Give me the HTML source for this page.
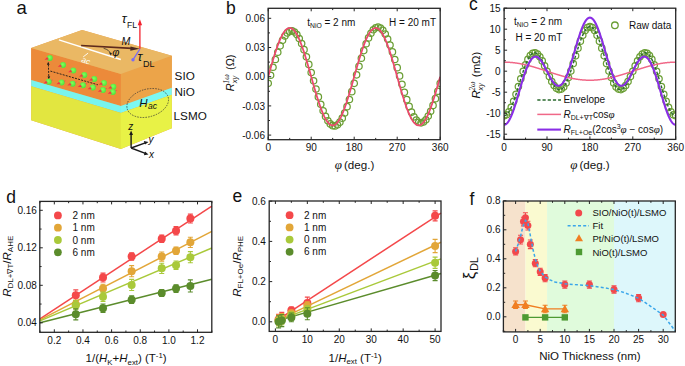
<!DOCTYPE html><html><head><meta charset="utf-8"><style>html,body{margin:0;padding:0;background:#fff;width:685px;height:366px;overflow:hidden}svg{display:block}</style></head><body><svg width="685" height="366" viewBox="0 0 685 366" font-family="Liberation Sans">
<rect width="685" height="366" fill="#fff"/>
<text x="16.50" y="13.50" font-size="18.5" text-anchor="start" fill="#111" >a</text>
<text x="226.00" y="13.60" font-size="17.5" text-anchor="start" fill="#111" >b</text>
<text x="469.00" y="10.40" font-size="17.5" text-anchor="start" fill="#111" >c</text>
<text x="6.20" y="202.70" font-size="17.5" text-anchor="start" fill="#111" >d</text>
<text x="232.60" y="202.20" font-size="17.5" text-anchor="start" fill="#111" >e</text>
<text x="469.60" y="205.40" font-size="17.5" text-anchor="start" fill="#111" >f</text>
<polygon points="31.20,48.00 82.10,30.10 171.80,55.70 171.80,128.30 120.80,149.00 31.20,120.20" fill="#e8a050" />
<polygon points="31.20,48.00 121.10,74.00 121.10,106.00 31.20,80.00" fill="#ec8a3a" />
<polygon points="31.20,80.00 121.10,106.00 121.10,113.00 31.20,86.20" fill="#78f4ee" />
<polygon points="31.20,86.20 121.10,113.00 121.10,149.00 31.20,120.20" fill="#e2e640" />
<polygon points="120.80,74.00 171.80,55.70 171.80,87.70 120.80,106.00" fill="#eca449" />
<polygon points="120.80,106.00 171.80,87.70 171.80,94.70 120.80,113.00" fill="#7cf8f2" />
<polygon points="120.80,113.00 171.80,94.70 171.80,128.30 120.80,149.00" fill="#e8f246" />
<polygon points="31.20,48.00 82.10,30.10 171.80,55.70 120.80,74.00" fill="#eab864" />
<path d="M58.9 39.9 L120.8 59.5" stroke="#fff" stroke-width="1.5"/>
<path d="M88.1 53.1 L83.2 56.9" stroke="#fff" stroke-width="0.9"/>
<text x="0" y="0" font-size="8" fill="#fff" font-style="italic" transform="translate(81.0,61.8) rotate(20)">ac</text>
<defs><radialGradient id="sph" cx="0.45" cy="0.4" r="0.6"><stop offset="0" stop-color="#84ff5c"/><stop offset="1" stop-color="#4ae43a"/></radialGradient></defs>
<path d="M48.4 64.5 L48.8 77.5" stroke="#1a1a1a" stroke-width="0.9" stroke-dasharray="2 1.2" fill="none"/>
<path d="M50.4 71.1 L97.9 84.8" stroke="#1a1a1a" stroke-width="0.9" stroke-dasharray="2 1.2" fill="none"/>
<path d="M48.2 61.8 L46.9 64.8 L49.6 64.7 Z M48.8 79.2 L47.5 76.4 L50.2 76.3 Z" fill="#1a1a1a"/>
<path d="M50.20 79.90 L52.90 79.50 L51.30 81.90 Z" fill="#f24858"/>
<path d="M63.10 80.80 L65.80 80.40 L64.20 82.80 Z" fill="#f24858"/>
<path d="M74.10 81.90 L76.80 81.50 L75.20 83.90 Z" fill="#f24858"/>
<path d="M84.50 83.50 L87.20 83.10 L85.60 85.50 Z" fill="#f24858"/>
<path d="M94.30 85.80 L97.00 85.40 L95.40 87.80 Z" fill="#f24858"/>
<path d="M104.50 88.30 L107.20 87.90 L105.60 90.30 Z" fill="#f24858"/>
<path d="M114.40 90.30 L117.10 89.90 L115.50 92.30 Z" fill="#f24858"/>
<circle cx="49.80" cy="58.00" r="3.0" fill="url(#sph)"/>
<path d="M47.30 57.10 L44.60 59.70 L48.80 59.60 Z" fill="#f23444"/>
<circle cx="63.00" cy="65.10" r="3.0" fill="url(#sph)"/>
<path d="M60.50 64.20 L57.80 66.80 L62.00 66.70 Z" fill="#f23444"/>
<circle cx="73.30" cy="70.60" r="3.0" fill="url(#sph)"/>
<path d="M70.80 69.70 L68.10 72.30 L72.30 72.20 Z" fill="#f23444"/>
<circle cx="84.30" cy="75.00" r="3.0" fill="url(#sph)"/>
<path d="M81.80 74.10 L79.10 76.70 L83.30 76.60 Z" fill="#f23444"/>
<circle cx="94.20" cy="79.00" r="3.0" fill="url(#sph)"/>
<path d="M91.70 78.10 L89.00 80.70 L93.20 80.60 Z" fill="#f23444"/>
<circle cx="103.90" cy="83.10" r="3.0" fill="url(#sph)"/>
<path d="M101.40 82.20 L98.70 84.80 L102.90 84.70 Z" fill="#f23444"/>
<circle cx="113.30" cy="86.80" r="3.0" fill="url(#sph)"/>
<path d="M110.80 85.90 L108.10 88.50 L112.30 88.40 Z" fill="#f23444"/>
<circle cx="48.70" cy="81.70" r="3.0" fill="url(#sph)"/>
<path d="M46.20 80.80 L43.50 83.40 L47.70 83.30 Z" fill="#f23444"/>
<circle cx="61.60" cy="82.60" r="3.0" fill="url(#sph)"/>
<path d="M59.10 81.70 L56.40 84.30 L60.60 84.20 Z" fill="#f23444"/>
<circle cx="72.60" cy="83.70" r="3.0" fill="url(#sph)"/>
<path d="M70.10 82.80 L67.40 85.40 L71.60 85.30 Z" fill="#f23444"/>
<circle cx="83.00" cy="85.30" r="3.0" fill="url(#sph)"/>
<path d="M80.50 84.40 L77.80 87.00 L82.00 86.90 Z" fill="#f23444"/>
<circle cx="92.80" cy="87.60" r="3.0" fill="url(#sph)"/>
<path d="M90.30 86.70 L87.60 89.30 L91.80 89.20 Z" fill="#f23444"/>
<circle cx="103.00" cy="90.10" r="3.0" fill="url(#sph)"/>
<path d="M100.50 89.20 L97.80 91.80 L102.00 91.70 Z" fill="#f23444"/>
<circle cx="112.90" cy="92.10" r="3.0" fill="url(#sph)"/>
<path d="M110.40 91.20 L107.70 93.80 L111.90 93.70 Z" fill="#f23444"/>
<path d="M81.1 45.5 L132.0 48.4" stroke="#5e2a1c" stroke-width="1.7"/>
<path d="M139.8 48.8 L130.5 46.4 L130.3 50.8 Z" fill="#4a2a22"/>
<path d="M103.6 48.3 Q109.5 49.8 110.6 54.0" stroke="#222" stroke-width="0.7" fill="none"/>
<path d="M110.9 55.6 L109.0 52.6 L111.9 52.9 Z" fill="#222"/>
<text x="112.2" y="56.0" font-size="11" font-style="italic" fill="#111">φ</text>
<text x="121.4" y="45.3" font-size="10.6" font-style="italic" fill="#111">M</text>
<path d="M139.9 48.8 L139.9 24.5" stroke="#f2222e" stroke-width="1.3"/>
<path d="M139.9 19.2 L137.7 25.2 L142.1 25.2 Z" fill="#f2222e"/>
<text x="121.8" y="22.6" font-size="13" font-style="italic" fill="#111">τ</text>
<text x="127.0" y="28.3" font-size="8.6" fill="#111">FL</text>
<path d="M139.9 49.2 L133.2 59.4" stroke="#7c6cf2" stroke-width="1.3"/>
<circle cx="133.0" cy="59.8" r="1.7" fill="#7c6cf2"/>
<text x="137.4" y="61.0" font-size="13" font-style="italic" fill="#111">τ</text>
<text x="143.0" y="67.3" font-size="9" fill="#111">DL</text>
<ellipse cx="147.7" cy="103.0" rx="21.3" ry="13.8" transform="rotate(-16 147.7 103)" fill="none" stroke="#333" stroke-width="0.7" stroke-dasharray="1.5 1.2"/>
<text x="139.2" y="107.0" font-size="11.5" font-style="italic" fill="#111">H</text>
<text x="148.0" y="108.6" font-size="8.6" font-style="italic" fill="#111">ac</text>
<text x="174.60" y="80.00" font-size="11.7" text-anchor="start" fill="#111" >SIO</text>
<text x="174.60" y="96.00" font-size="11.7" text-anchor="start" fill="#111" >NiO</text>
<text x="173.60" y="120.20" font-size="11.7" text-anchor="start" fill="#111" >LSMO</text>
<path d="M131.1 148 L131.1 133.5 M131.1 148 L146 142.6 M131.1 148 L146 153.7" stroke="#1a1a1a" stroke-width="1.4" fill="none"/>
<path d="M131.1 130.5 L129.2 135 L133.0 135 Z M148.5 142.0 L143.8 141.0 L145.0 144.6 Z M148.5 154.5 L145.0 151.5 L143.9 155.2 Z" fill="#1a1a1a"/>
<text x="128.2" y="129.8" font-size="10" font-style="italic" fill="#111">z</text>
<text x="148.5" y="142.8" font-size="10" font-style="italic" fill="#111">y</text>
<text x="149.0" y="157.6" font-size="10" font-style="italic" fill="#111">x</text>
<clipPath id="clipb"><rect x="268.20" y="8.30" width="172.00" height="131.40"/></clipPath>
<g clip-path="url(#clipb)">
<circle cx="268.20" cy="83.34" r="3.2" fill="none" stroke="#6a9e34" stroke-width="1.25"/>
<circle cx="270.59" cy="75.25" r="3.2" fill="none" stroke="#6a9e34" stroke-width="1.25"/>
<circle cx="272.98" cy="67.21" r="3.2" fill="none" stroke="#6a9e34" stroke-width="1.25"/>
<circle cx="275.37" cy="59.46" r="3.2" fill="none" stroke="#6a9e34" stroke-width="1.25"/>
<circle cx="277.76" cy="52.26" r="3.2" fill="none" stroke="#6a9e34" stroke-width="1.25"/>
<circle cx="280.14" cy="45.82" r="3.2" fill="none" stroke="#6a9e34" stroke-width="1.25"/>
<circle cx="282.53" cy="40.34" r="3.2" fill="none" stroke="#6a9e34" stroke-width="1.25"/>
<circle cx="284.92" cy="35.99" r="3.2" fill="none" stroke="#6a9e34" stroke-width="1.25"/>
<circle cx="287.31" cy="32.91" r="3.2" fill="none" stroke="#6a9e34" stroke-width="1.25"/>
<circle cx="289.70" cy="31.19" r="3.2" fill="none" stroke="#6a9e34" stroke-width="1.25"/>
<circle cx="292.09" cy="30.90" r="3.2" fill="none" stroke="#6a9e34" stroke-width="1.25"/>
<circle cx="294.48" cy="32.04" r="3.2" fill="none" stroke="#6a9e34" stroke-width="1.25"/>
<circle cx="296.87" cy="34.59" r="3.2" fill="none" stroke="#6a9e34" stroke-width="1.25"/>
<circle cx="299.26" cy="38.46" r="3.2" fill="none" stroke="#6a9e34" stroke-width="1.25"/>
<circle cx="301.64" cy="43.54" r="3.2" fill="none" stroke="#6a9e34" stroke-width="1.25"/>
<circle cx="304.03" cy="49.69" r="3.2" fill="none" stroke="#6a9e34" stroke-width="1.25"/>
<circle cx="306.42" cy="56.71" r="3.2" fill="none" stroke="#6a9e34" stroke-width="1.25"/>
<circle cx="308.81" cy="64.39" r="3.2" fill="none" stroke="#6a9e34" stroke-width="1.25"/>
<circle cx="311.20" cy="72.50" r="3.2" fill="none" stroke="#6a9e34" stroke-width="1.25"/>
<circle cx="313.59" cy="80.79" r="3.2" fill="none" stroke="#6a9e34" stroke-width="1.25"/>
<circle cx="315.98" cy="89.01" r="3.2" fill="none" stroke="#6a9e34" stroke-width="1.25"/>
<circle cx="318.37" cy="96.92" r="3.2" fill="none" stroke="#6a9e34" stroke-width="1.25"/>
<circle cx="320.76" cy="104.26" r="3.2" fill="none" stroke="#6a9e34" stroke-width="1.25"/>
<circle cx="323.14" cy="110.82" r="3.2" fill="none" stroke="#6a9e34" stroke-width="1.25"/>
<circle cx="325.53" cy="116.39" r="3.2" fill="none" stroke="#6a9e34" stroke-width="1.25"/>
<circle cx="327.92" cy="120.80" r="3.2" fill="none" stroke="#6a9e34" stroke-width="1.25"/>
<circle cx="330.31" cy="123.92" r="3.2" fill="none" stroke="#6a9e34" stroke-width="1.25"/>
<circle cx="332.70" cy="125.65" r="3.2" fill="none" stroke="#6a9e34" stroke-width="1.25"/>
<circle cx="335.09" cy="125.93" r="3.2" fill="none" stroke="#6a9e34" stroke-width="1.25"/>
<circle cx="337.48" cy="124.75" r="3.2" fill="none" stroke="#6a9e34" stroke-width="1.25"/>
<circle cx="339.87" cy="122.14" r="3.2" fill="none" stroke="#6a9e34" stroke-width="1.25"/>
<circle cx="342.26" cy="118.17" r="3.2" fill="none" stroke="#6a9e34" stroke-width="1.25"/>
<circle cx="344.64" cy="112.97" r="3.2" fill="none" stroke="#6a9e34" stroke-width="1.25"/>
<circle cx="347.03" cy="106.69" r="3.2" fill="none" stroke="#6a9e34" stroke-width="1.25"/>
<circle cx="349.42" cy="99.51" r="3.2" fill="none" stroke="#6a9e34" stroke-width="1.25"/>
<circle cx="351.81" cy="91.65" r="3.2" fill="none" stroke="#6a9e34" stroke-width="1.25"/>
<circle cx="354.20" cy="83.34" r="3.2" fill="none" stroke="#6a9e34" stroke-width="1.25"/>
<circle cx="356.59" cy="74.82" r="3.2" fill="none" stroke="#6a9e34" stroke-width="1.25"/>
<circle cx="358.98" cy="66.36" r="3.2" fill="none" stroke="#6a9e34" stroke-width="1.25"/>
<circle cx="361.37" cy="58.20" r="3.2" fill="none" stroke="#6a9e34" stroke-width="1.25"/>
<circle cx="363.76" cy="50.60" r="3.2" fill="none" stroke="#6a9e34" stroke-width="1.25"/>
<circle cx="366.14" cy="43.76" r="3.2" fill="none" stroke="#6a9e34" stroke-width="1.25"/>
<circle cx="368.53" cy="37.90" r="3.2" fill="none" stroke="#6a9e34" stroke-width="1.25"/>
<circle cx="370.92" cy="33.20" r="3.2" fill="none" stroke="#6a9e34" stroke-width="1.25"/>
<circle cx="373.31" cy="29.78" r="3.2" fill="none" stroke="#6a9e34" stroke-width="1.25"/>
<circle cx="375.70" cy="27.75" r="3.2" fill="none" stroke="#6a9e34" stroke-width="1.25"/>
<circle cx="378.09" cy="27.17" r="3.2" fill="none" stroke="#6a9e34" stroke-width="1.25"/>
<circle cx="380.48" cy="28.06" r="3.2" fill="none" stroke="#6a9e34" stroke-width="1.25"/>
<circle cx="382.87" cy="30.37" r="3.2" fill="none" stroke="#6a9e34" stroke-width="1.25"/>
<circle cx="385.26" cy="34.05" r="3.2" fill="none" stroke="#6a9e34" stroke-width="1.25"/>
<circle cx="387.64" cy="38.97" r="3.2" fill="none" stroke="#6a9e34" stroke-width="1.25"/>
<circle cx="390.03" cy="44.99" r="3.2" fill="none" stroke="#6a9e34" stroke-width="1.25"/>
<circle cx="392.42" cy="51.91" r="3.2" fill="none" stroke="#6a9e34" stroke-width="1.25"/>
<circle cx="394.81" cy="59.54" r="3.2" fill="none" stroke="#6a9e34" stroke-width="1.25"/>
<circle cx="397.20" cy="67.63" r="3.2" fill="none" stroke="#6a9e34" stroke-width="1.25"/>
<circle cx="399.59" cy="75.94" r="3.2" fill="none" stroke="#6a9e34" stroke-width="1.25"/>
<circle cx="401.98" cy="84.22" r="3.2" fill="none" stroke="#6a9e34" stroke-width="1.25"/>
<circle cx="404.37" cy="92.22" r="3.2" fill="none" stroke="#6a9e34" stroke-width="1.25"/>
<circle cx="406.76" cy="99.69" r="3.2" fill="none" stroke="#6a9e34" stroke-width="1.25"/>
<circle cx="409.14" cy="106.41" r="3.2" fill="none" stroke="#6a9e34" stroke-width="1.25"/>
<circle cx="411.53" cy="112.17" r="3.2" fill="none" stroke="#6a9e34" stroke-width="1.25"/>
<circle cx="413.92" cy="116.82" r="3.2" fill="none" stroke="#6a9e34" stroke-width="1.25"/>
<circle cx="416.31" cy="120.19" r="3.2" fill="none" stroke="#6a9e34" stroke-width="1.25"/>
<circle cx="418.70" cy="122.21" r="3.2" fill="none" stroke="#6a9e34" stroke-width="1.25"/>
<circle cx="421.09" cy="122.80" r="3.2" fill="none" stroke="#6a9e34" stroke-width="1.25"/>
<circle cx="423.48" cy="121.95" r="3.2" fill="none" stroke="#6a9e34" stroke-width="1.25"/>
<circle cx="425.87" cy="119.70" r="3.2" fill="none" stroke="#6a9e34" stroke-width="1.25"/>
<circle cx="428.26" cy="116.12" r="3.2" fill="none" stroke="#6a9e34" stroke-width="1.25"/>
<circle cx="430.64" cy="111.31" r="3.2" fill="none" stroke="#6a9e34" stroke-width="1.25"/>
<circle cx="433.03" cy="105.43" r="3.2" fill="none" stroke="#6a9e34" stroke-width="1.25"/>
<circle cx="435.42" cy="98.67" r="3.2" fill="none" stroke="#6a9e34" stroke-width="1.25"/>
<circle cx="437.81" cy="91.23" r="3.2" fill="none" stroke="#6a9e34" stroke-width="1.25"/>
<circle cx="440.20" cy="83.34" r="3.2" fill="none" stroke="#6a9e34" stroke-width="1.25"/>
<path d="M268.20 76.70 L268.44 75.85 L268.68 75.00 L268.92 74.15 L269.16 73.31 L269.39 72.46 L269.63 71.61 L269.87 70.77 L270.11 69.93 L270.35 69.09 L270.59 68.25 L270.83 67.41 L271.07 66.58 L271.31 65.75 L271.54 64.93 L271.78 64.10 L272.02 63.29 L272.26 62.47 L272.50 61.66 L272.74 60.86 L272.98 60.06 L273.22 59.26 L273.46 58.47 L273.69 57.69 L273.93 56.91 L274.17 56.13 L274.41 55.37 L274.65 54.61 L274.89 53.85 L275.13 53.11 L275.37 52.37 L275.61 51.64 L275.84 50.91 L276.08 50.20 L276.32 49.49 L276.56 48.79 L276.80 48.10 L277.04 47.41 L277.28 46.74 L277.52 46.07 L277.76 45.42 L277.99 44.77 L278.23 44.14 L278.47 43.51 L278.71 42.89 L278.95 42.29 L279.19 41.69 L279.43 41.11 L279.67 40.53 L279.91 39.97 L280.14 39.42 L280.38 38.88 L280.62 38.35 L280.86 37.83 L281.10 37.33 L281.34 36.84 L281.58 36.35 L281.82 35.89 L282.06 35.43 L282.29 34.99 L282.53 34.55 L282.77 34.14 L283.01 33.73 L283.25 33.34 L283.49 32.96 L283.73 32.59 L283.97 32.24 L284.21 31.90 L284.44 31.58 L284.68 31.27 L284.92 30.97 L285.16 30.69 L285.40 30.42 L285.64 30.16 L285.88 29.92 L286.12 29.69 L286.36 29.48 L286.59 29.28 L286.83 29.10 L287.07 28.93 L287.31 28.77 L287.55 28.63 L287.79 28.51 L288.03 28.40 L288.27 28.30 L288.51 28.22 L288.74 28.15 L288.98 28.10 L289.22 28.06 L289.46 28.04 L289.70 28.04 L289.94 28.04 L290.18 28.06 L290.42 28.10 L290.66 28.15 L290.89 28.22 L291.13 28.30 L291.37 28.40 L291.61 28.51 L291.85 28.63 L292.09 28.77 L292.33 28.93 L292.57 29.10 L292.81 29.28 L293.04 29.48 L293.28 29.69 L293.52 29.92 L293.76 30.16 L294.00 30.42 L294.24 30.69 L294.48 30.97 L294.72 31.27 L294.96 31.58 L295.19 31.90 L295.43 32.24 L295.67 32.59 L295.91 32.96 L296.15 33.34 L296.39 33.73 L296.63 34.14 L296.87 34.55 L297.11 34.99 L297.34 35.43 L297.58 35.89 L297.82 36.35 L298.06 36.84 L298.30 37.33 L298.54 37.83 L298.78 38.35 L299.02 38.88 L299.26 39.42 L299.49 39.97 L299.73 40.53 L299.97 41.11 L300.21 41.69 L300.45 42.29 L300.69 42.89 L300.93 43.51 L301.17 44.14 L301.41 44.77 L301.64 45.42 L301.88 46.07 L302.12 46.74 L302.36 47.41 L302.60 48.10 L302.84 48.79 L303.08 49.49 L303.32 50.20 L303.56 50.91 L303.79 51.64 L304.03 52.37 L304.27 53.11 L304.51 53.85 L304.75 54.61 L304.99 55.37 L305.23 56.13 L305.47 56.91 L305.71 57.69 L305.94 58.47 L306.18 59.26 L306.42 60.06 L306.66 60.86 L306.90 61.66 L307.14 62.47 L307.38 63.29 L307.62 64.10 L307.86 64.93 L308.09 65.75 L308.33 66.58 L308.57 67.41 L308.81 68.25 L309.05 69.09 L309.29 69.93 L309.53 70.77 L309.77 71.61 L310.01 72.46 L310.24 73.31 L310.48 74.15 L310.72 75.00 L310.96 75.85 L311.20 76.70 L311.44 77.55 L311.68 78.40 L311.92 79.25 L312.16 80.09 L312.39 80.94 L312.63 81.79 L312.87 82.63 L313.11 83.47 L313.35 84.31 L313.59 85.15 L313.83 85.99 L314.07 86.82 L314.31 87.65 L314.54 88.47 L314.78 89.30 L315.02 90.11 L315.26 90.93 L315.50 91.74 L315.74 92.54 L315.98 93.34 L316.22 94.14 L316.46 94.93 L316.69 95.71 L316.93 96.49 L317.17 97.27 L317.41 98.03 L317.65 98.79 L317.89 99.55 L318.13 100.29 L318.37 101.03 L318.61 101.76 L318.84 102.49 L319.08 103.20 L319.32 103.91 L319.56 104.61 L319.80 105.30 L320.04 105.99 L320.28 106.66 L320.52 107.33 L320.76 107.98 L320.99 108.63 L321.23 109.26 L321.47 109.89 L321.71 110.51 L321.95 111.11 L322.19 111.71 L322.43 112.29 L322.67 112.87 L322.91 113.43 L323.14 113.98 L323.38 114.52 L323.62 115.05 L323.86 115.57 L324.10 116.07 L324.34 116.56 L324.58 117.05 L324.82 117.51 L325.06 117.97 L325.29 118.41 L325.53 118.85 L325.77 119.26 L326.01 119.67 L326.25 120.06 L326.49 120.44 L326.73 120.81 L326.97 121.16 L327.21 121.50 L327.44 121.82 L327.68 122.13 L327.92 122.43 L328.16 122.71 L328.40 122.98 L328.64 123.24 L328.88 123.48 L329.12 123.71 L329.36 123.92 L329.59 124.12 L329.83 124.30 L330.07 124.47 L330.31 124.63 L330.55 124.77 L330.79 124.89 L331.03 125.00 L331.27 125.10 L331.51 125.18 L331.74 125.25 L331.98 125.30 L332.22 125.34 L332.46 125.36 L332.70 125.37 L332.94 125.36 L333.18 125.34 L333.42 125.30 L333.66 125.25 L333.89 125.18 L334.13 125.10 L334.37 125.00 L334.61 124.89 L334.85 124.77 L335.09 124.63 L335.33 124.47 L335.57 124.30 L335.81 124.12 L336.04 123.92 L336.28 123.71 L336.52 123.48 L336.76 123.24 L337.00 122.98 L337.24 122.71 L337.48 122.43 L337.72 122.13 L337.96 121.82 L338.19 121.50 L338.43 121.16 L338.67 120.81 L338.91 120.44 L339.15 120.06 L339.39 119.67 L339.63 119.26 L339.87 118.85 L340.11 118.41 L340.34 117.97 L340.58 117.51 L340.82 117.05 L341.06 116.56 L341.30 116.07 L341.54 115.57 L341.78 115.05 L342.02 114.52 L342.26 113.98 L342.49 113.43 L342.73 112.87 L342.97 112.29 L343.21 111.71 L343.45 111.11 L343.69 110.51 L343.93 109.89 L344.17 109.26 L344.41 108.63 L344.64 107.98 L344.88 107.33 L345.12 106.66 L345.36 105.99 L345.60 105.30 L345.84 104.61 L346.08 103.91 L346.32 103.20 L346.56 102.49 L346.79 101.76 L347.03 101.03 L347.27 100.29 L347.51 99.55 L347.75 98.79 L347.99 98.03 L348.23 97.27 L348.47 96.49 L348.71 95.71 L348.94 94.93 L349.18 94.14 L349.42 93.34 L349.66 92.54 L349.90 91.74 L350.14 90.93 L350.38 90.11 L350.62 89.30 L350.86 88.47 L351.09 87.65 L351.33 86.82 L351.57 85.99 L351.81 85.15 L352.05 84.31 L352.29 83.47 L352.53 82.63 L352.77 81.79 L353.01 80.94 L353.24 80.09 L353.48 79.25 L353.72 78.40 L353.96 77.55 L354.20 76.70 L354.44 75.85 L354.68 75.00 L354.92 74.15 L355.16 73.31 L355.39 72.46 L355.63 71.61 L355.87 70.77 L356.11 69.93 L356.35 69.09 L356.59 68.25 L356.83 67.41 L357.07 66.58 L357.31 65.75 L357.54 64.93 L357.78 64.10 L358.02 63.29 L358.26 62.47 L358.50 61.66 L358.74 60.86 L358.98 60.06 L359.22 59.26 L359.46 58.47 L359.69 57.69 L359.93 56.91 L360.17 56.13 L360.41 55.37 L360.65 54.61 L360.89 53.85 L361.13 53.11 L361.37 52.37 L361.61 51.64 L361.84 50.91 L362.08 50.20 L362.32 49.49 L362.56 48.79 L362.80 48.10 L363.04 47.41 L363.28 46.74 L363.52 46.07 L363.76 45.42 L363.99 44.77 L364.23 44.14 L364.47 43.51 L364.71 42.89 L364.95 42.29 L365.19 41.69 L365.43 41.11 L365.67 40.53 L365.91 39.97 L366.14 39.42 L366.38 38.88 L366.62 38.35 L366.86 37.83 L367.10 37.33 L367.34 36.84 L367.58 36.35 L367.82 35.89 L368.06 35.43 L368.29 34.99 L368.53 34.55 L368.77 34.14 L369.01 33.73 L369.25 33.34 L369.49 32.96 L369.73 32.59 L369.97 32.24 L370.21 31.90 L370.44 31.58 L370.68 31.27 L370.92 30.97 L371.16 30.69 L371.40 30.42 L371.64 30.16 L371.88 29.92 L372.12 29.69 L372.36 29.48 L372.59 29.28 L372.83 29.10 L373.07 28.93 L373.31 28.77 L373.55 28.63 L373.79 28.51 L374.03 28.40 L374.27 28.30 L374.51 28.22 L374.74 28.15 L374.98 28.10 L375.22 28.06 L375.46 28.04 L375.70 28.04 L375.94 28.04 L376.18 28.06 L376.42 28.10 L376.66 28.15 L376.89 28.22 L377.13 28.30 L377.37 28.40 L377.61 28.51 L377.85 28.63 L378.09 28.77 L378.33 28.93 L378.57 29.10 L378.81 29.28 L379.04 29.48 L379.28 29.69 L379.52 29.92 L379.76 30.16 L380.00 30.42 L380.24 30.69 L380.48 30.97 L380.72 31.27 L380.96 31.58 L381.19 31.90 L381.43 32.24 L381.67 32.59 L381.91 32.96 L382.15 33.34 L382.39 33.73 L382.63 34.14 L382.87 34.55 L383.11 34.99 L383.34 35.43 L383.58 35.89 L383.82 36.35 L384.06 36.84 L384.30 37.33 L384.54 37.83 L384.78 38.35 L385.02 38.88 L385.26 39.42 L385.49 39.97 L385.73 40.53 L385.97 41.11 L386.21 41.69 L386.45 42.29 L386.69 42.89 L386.93 43.51 L387.17 44.14 L387.41 44.77 L387.64 45.42 L387.88 46.07 L388.12 46.74 L388.36 47.41 L388.60 48.10 L388.84 48.79 L389.08 49.49 L389.32 50.20 L389.56 50.91 L389.79 51.64 L390.03 52.37 L390.27 53.11 L390.51 53.85 L390.75 54.61 L390.99 55.37 L391.23 56.13 L391.47 56.91 L391.71 57.69 L391.94 58.47 L392.18 59.26 L392.42 60.06 L392.66 60.86 L392.90 61.66 L393.14 62.47 L393.38 63.29 L393.62 64.10 L393.86 64.93 L394.09 65.75 L394.33 66.58 L394.57 67.41 L394.81 68.25 L395.05 69.09 L395.29 69.93 L395.53 70.77 L395.77 71.61 L396.01 72.46 L396.24 73.31 L396.48 74.15 L396.72 75.00 L396.96 75.85 L397.20 76.70 L397.44 77.55 L397.68 78.40 L397.92 79.25 L398.16 80.09 L398.39 80.94 L398.63 81.79 L398.87 82.63 L399.11 83.47 L399.35 84.31 L399.59 85.15 L399.83 85.99 L400.07 86.82 L400.31 87.65 L400.54 88.47 L400.78 89.30 L401.02 90.11 L401.26 90.93 L401.50 91.74 L401.74 92.54 L401.98 93.34 L402.22 94.14 L402.46 94.93 L402.69 95.71 L402.93 96.49 L403.17 97.27 L403.41 98.03 L403.65 98.79 L403.89 99.55 L404.13 100.29 L404.37 101.03 L404.61 101.76 L404.84 102.49 L405.08 103.20 L405.32 103.91 L405.56 104.61 L405.80 105.30 L406.04 105.99 L406.28 106.66 L406.52 107.33 L406.76 107.98 L406.99 108.63 L407.23 109.26 L407.47 109.89 L407.71 110.51 L407.95 111.11 L408.19 111.71 L408.43 112.29 L408.67 112.87 L408.91 113.43 L409.14 113.98 L409.38 114.52 L409.62 115.05 L409.86 115.57 L410.10 116.07 L410.34 116.56 L410.58 117.05 L410.82 117.51 L411.06 117.97 L411.29 118.41 L411.53 118.85 L411.77 119.26 L412.01 119.67 L412.25 120.06 L412.49 120.44 L412.73 120.81 L412.97 121.16 L413.21 121.50 L413.44 121.82 L413.68 122.13 L413.92 122.43 L414.16 122.71 L414.40 122.98 L414.64 123.24 L414.88 123.48 L415.12 123.71 L415.36 123.92 L415.59 124.12 L415.83 124.30 L416.07 124.47 L416.31 124.63 L416.55 124.77 L416.79 124.89 L417.03 125.00 L417.27 125.10 L417.51 125.18 L417.74 125.25 L417.98 125.30 L418.22 125.34 L418.46 125.36 L418.70 125.37 L418.94 125.36 L419.18 125.34 L419.42 125.30 L419.66 125.25 L419.89 125.18 L420.13 125.10 L420.37 125.00 L420.61 124.89 L420.85 124.77 L421.09 124.63 L421.33 124.47 L421.57 124.30 L421.81 124.12 L422.04 123.92 L422.28 123.71 L422.52 123.48 L422.76 123.24 L423.00 122.98 L423.24 122.71 L423.48 122.43 L423.72 122.13 L423.96 121.82 L424.19 121.50 L424.43 121.16 L424.67 120.81 L424.91 120.44 L425.15 120.06 L425.39 119.67 L425.63 119.26 L425.87 118.85 L426.11 118.41 L426.34 117.97 L426.58 117.51 L426.82 117.05 L427.06 116.56 L427.30 116.07 L427.54 115.57 L427.78 115.05 L428.02 114.52 L428.26 113.98 L428.49 113.43 L428.73 112.87 L428.97 112.29 L429.21 111.71 L429.45 111.11 L429.69 110.51 L429.93 109.89 L430.17 109.26 L430.41 108.63 L430.64 107.98 L430.88 107.33 L431.12 106.66 L431.36 105.99 L431.60 105.30 L431.84 104.61 L432.08 103.91 L432.32 103.20 L432.56 102.49 L432.79 101.76 L433.03 101.03 L433.27 100.29 L433.51 99.55 L433.75 98.79 L433.99 98.03 L434.23 97.27 L434.47 96.49 L434.71 95.71 L434.94 94.93 L435.18 94.14 L435.42 93.34 L435.66 92.54 L435.90 91.74 L436.14 90.93 L436.38 90.11 L436.62 89.30 L436.86 88.47 L437.09 87.65 L437.33 86.82 L437.57 85.99 L437.81 85.15 L438.05 84.31 L438.29 83.47 L438.53 82.63 L438.77 81.79 L439.01 80.94 L439.24 80.09 L439.48 79.25 L439.72 78.40 L439.96 77.55 L440.20 76.70" stroke="#ec4a6e" stroke-width="1.8" fill="none" stroke-linejoin="round" />
</g>
<rect x="268.20" y="8.30" width="172.00" height="131.40" fill="none" stroke="#262626" stroke-width="1.3"/>
<path d="M268.20 139.70v-3.0M268.20 8.30v3.0M289.70 139.70v-1.8M289.70 8.30v1.8M311.20 139.70v-3.0M311.20 8.30v3.0M332.70 139.70v-1.8M332.70 8.30v1.8M354.20 139.70v-3.0M354.20 8.30v3.0M375.70 139.70v-1.8M375.70 8.30v1.8M397.20 139.70v-3.0M397.20 8.30v3.0M418.70 139.70v-1.8M418.70 8.30v1.8M440.20 139.70v-3.0M440.20 8.30v3.0M268.20 135.10h3.0M268.20 120.50h1.8M268.20 105.90h3.0M268.20 91.30h1.8M268.20 76.70h3.0M268.20 62.10h1.8M268.20 47.50h3.0M268.20 32.90h1.8M268.20 18.30h3.0" stroke="#262626" stroke-width="1" fill="none"/>
<text x="265.00" y="21.90" font-size="10" text-anchor="end" fill="#111" >0.06</text>
<text x="265.00" y="51.10" font-size="10" text-anchor="end" fill="#111" >0.03</text>
<text x="265.00" y="80.30" font-size="10" text-anchor="end" fill="#111" >0.00</text>
<text x="265.00" y="109.50" font-size="10" text-anchor="end" fill="#111" >-0.03</text>
<text x="265.00" y="138.70" font-size="10" text-anchor="end" fill="#111" >-0.06</text>
<text x="268.20" y="151.20" font-size="10" text-anchor="middle" fill="#111" >0</text>
<text x="311.20" y="151.20" font-size="10" text-anchor="middle" fill="#111" >90</text>
<text x="354.20" y="151.20" font-size="10" text-anchor="middle" fill="#111" >180</text>
<text x="397.20" y="151.20" font-size="10" text-anchor="middle" fill="#111" >270</text>
<text x="440.20" y="151.20" font-size="10" text-anchor="middle" fill="#111" >360</text>
<text x="334.7" y="169.2" font-size="13" font-family="Liberation Serif" font-style="italic" fill="#111">φ</text>
<text x="344.00" y="169.20" font-size="11.6" text-anchor="start" fill="#111" >(deg.)</text>
<text transform="translate(234.0,91.2) rotate(-90)" font-size="11" fill="#111"><tspan font-style="italic">R</tspan><tspan font-size="7.5" dy="2.5" font-style="italic">xy</tspan><tspan font-size="8" dy="-7.5" dx="-8" font-family="Liberation Serif" font-style="italic">1ω</tspan><tspan dy="5" dx="1"> (Ω)</tspan></text>
<text x="307.2" y="26.0" font-size="10" fill="#111">t<tspan font-size="6.8" dy="2.4">NiO</tspan><tspan dy="-2.4"> = 2 nm</tspan></text>
<text x="436.00" y="26.40" font-size="10" text-anchor="end" fill="#111" >H = 20 mT</text>
<clipPath id="clipc"><rect x="504.10" y="8.20" width="171.60" height="131.20"/></clipPath>
<g clip-path="url(#clipc)">
<circle cx="504.10" cy="115.72" r="3.2" fill="none" stroke="#6a9e34" stroke-width="1.25"/>
<circle cx="506.48" cy="114.74" r="3.2" fill="none" stroke="#6a9e34" stroke-width="1.25"/>
<circle cx="508.87" cy="111.86" r="3.2" fill="none" stroke="#6a9e34" stroke-width="1.25"/>
<circle cx="511.25" cy="107.27" r="3.2" fill="none" stroke="#6a9e34" stroke-width="1.25"/>
<circle cx="513.63" cy="101.26" r="3.2" fill="none" stroke="#6a9e34" stroke-width="1.25"/>
<circle cx="516.02" cy="94.21" r="3.2" fill="none" stroke="#6a9e34" stroke-width="1.25"/>
<circle cx="518.40" cy="86.57" r="3.2" fill="none" stroke="#6a9e34" stroke-width="1.25"/>
<circle cx="520.78" cy="78.81" r="3.2" fill="none" stroke="#6a9e34" stroke-width="1.25"/>
<circle cx="523.17" cy="71.41" r="3.2" fill="none" stroke="#6a9e34" stroke-width="1.25"/>
<circle cx="525.55" cy="64.81" r="3.2" fill="none" stroke="#6a9e34" stroke-width="1.25"/>
<circle cx="527.93" cy="59.42" r="3.2" fill="none" stroke="#6a9e34" stroke-width="1.25"/>
<circle cx="530.32" cy="55.52" r="3.2" fill="none" stroke="#6a9e34" stroke-width="1.25"/>
<circle cx="532.70" cy="53.30" r="3.2" fill="none" stroke="#6a9e34" stroke-width="1.25"/>
<circle cx="535.08" cy="52.84" r="3.2" fill="none" stroke="#6a9e34" stroke-width="1.25"/>
<circle cx="537.47" cy="54.08" r="3.2" fill="none" stroke="#6a9e34" stroke-width="1.25"/>
<circle cx="539.85" cy="56.86" r="3.2" fill="none" stroke="#6a9e34" stroke-width="1.25"/>
<circle cx="542.23" cy="60.89" r="3.2" fill="none" stroke="#6a9e34" stroke-width="1.25"/>
<circle cx="544.62" cy="65.82" r="3.2" fill="none" stroke="#6a9e34" stroke-width="1.25"/>
<circle cx="547.00" cy="71.20" r="3.2" fill="none" stroke="#6a9e34" stroke-width="1.25"/>
<circle cx="549.38" cy="76.58" r="3.2" fill="none" stroke="#6a9e34" stroke-width="1.25"/>
<circle cx="551.77" cy="81.51" r="3.2" fill="none" stroke="#6a9e34" stroke-width="1.25"/>
<circle cx="554.15" cy="85.54" r="3.2" fill="none" stroke="#6a9e34" stroke-width="1.25"/>
<circle cx="556.53" cy="88.32" r="3.2" fill="none" stroke="#6a9e34" stroke-width="1.25"/>
<circle cx="558.92" cy="89.56" r="3.2" fill="none" stroke="#6a9e34" stroke-width="1.25"/>
<circle cx="561.30" cy="89.10" r="3.2" fill="none" stroke="#6a9e34" stroke-width="1.25"/>
<circle cx="563.68" cy="86.88" r="3.2" fill="none" stroke="#6a9e34" stroke-width="1.25"/>
<circle cx="566.07" cy="82.98" r="3.2" fill="none" stroke="#6a9e34" stroke-width="1.25"/>
<circle cx="568.45" cy="77.59" r="3.2" fill="none" stroke="#6a9e34" stroke-width="1.25"/>
<circle cx="570.83" cy="70.99" r="3.2" fill="none" stroke="#6a9e34" stroke-width="1.25"/>
<circle cx="573.22" cy="63.59" r="3.2" fill="none" stroke="#6a9e34" stroke-width="1.25"/>
<circle cx="575.60" cy="55.83" r="3.2" fill="none" stroke="#6a9e34" stroke-width="1.25"/>
<circle cx="577.98" cy="48.19" r="3.2" fill="none" stroke="#6a9e34" stroke-width="1.25"/>
<circle cx="580.37" cy="41.14" r="3.2" fill="none" stroke="#6a9e34" stroke-width="1.25"/>
<circle cx="582.75" cy="35.13" r="3.2" fill="none" stroke="#6a9e34" stroke-width="1.25"/>
<circle cx="585.13" cy="30.54" r="3.2" fill="none" stroke="#6a9e34" stroke-width="1.25"/>
<circle cx="587.52" cy="27.66" r="3.2" fill="none" stroke="#6a9e34" stroke-width="1.25"/>
<circle cx="589.90" cy="26.68" r="3.2" fill="none" stroke="#6a9e34" stroke-width="1.25"/>
<circle cx="592.28" cy="27.66" r="3.2" fill="none" stroke="#6a9e34" stroke-width="1.25"/>
<circle cx="594.67" cy="30.54" r="3.2" fill="none" stroke="#6a9e34" stroke-width="1.25"/>
<circle cx="597.05" cy="35.13" r="3.2" fill="none" stroke="#6a9e34" stroke-width="1.25"/>
<circle cx="599.43" cy="41.14" r="3.2" fill="none" stroke="#6a9e34" stroke-width="1.25"/>
<circle cx="601.82" cy="48.19" r="3.2" fill="none" stroke="#6a9e34" stroke-width="1.25"/>
<circle cx="604.20" cy="55.83" r="3.2" fill="none" stroke="#6a9e34" stroke-width="1.25"/>
<circle cx="606.58" cy="63.59" r="3.2" fill="none" stroke="#6a9e34" stroke-width="1.25"/>
<circle cx="608.97" cy="70.99" r="3.2" fill="none" stroke="#6a9e34" stroke-width="1.25"/>
<circle cx="611.35" cy="77.59" r="3.2" fill="none" stroke="#6a9e34" stroke-width="1.25"/>
<circle cx="613.73" cy="82.98" r="3.2" fill="none" stroke="#6a9e34" stroke-width="1.25"/>
<circle cx="616.12" cy="86.88" r="3.2" fill="none" stroke="#6a9e34" stroke-width="1.25"/>
<circle cx="618.50" cy="89.10" r="3.2" fill="none" stroke="#6a9e34" stroke-width="1.25"/>
<circle cx="620.88" cy="89.56" r="3.2" fill="none" stroke="#6a9e34" stroke-width="1.25"/>
<circle cx="623.27" cy="88.32" r="3.2" fill="none" stroke="#6a9e34" stroke-width="1.25"/>
<circle cx="625.65" cy="85.54" r="3.2" fill="none" stroke="#6a9e34" stroke-width="1.25"/>
<circle cx="628.03" cy="81.51" r="3.2" fill="none" stroke="#6a9e34" stroke-width="1.25"/>
<circle cx="630.42" cy="76.58" r="3.2" fill="none" stroke="#6a9e34" stroke-width="1.25"/>
<circle cx="632.80" cy="71.20" r="3.2" fill="none" stroke="#6a9e34" stroke-width="1.25"/>
<circle cx="635.18" cy="65.82" r="3.2" fill="none" stroke="#6a9e34" stroke-width="1.25"/>
<circle cx="637.57" cy="60.89" r="3.2" fill="none" stroke="#6a9e34" stroke-width="1.25"/>
<circle cx="639.95" cy="56.86" r="3.2" fill="none" stroke="#6a9e34" stroke-width="1.25"/>
<circle cx="642.33" cy="54.08" r="3.2" fill="none" stroke="#6a9e34" stroke-width="1.25"/>
<circle cx="644.72" cy="52.84" r="3.2" fill="none" stroke="#6a9e34" stroke-width="1.25"/>
<circle cx="647.10" cy="53.30" r="3.2" fill="none" stroke="#6a9e34" stroke-width="1.25"/>
<circle cx="649.48" cy="55.52" r="3.2" fill="none" stroke="#6a9e34" stroke-width="1.25"/>
<circle cx="651.87" cy="59.42" r="3.2" fill="none" stroke="#6a9e34" stroke-width="1.25"/>
<circle cx="654.25" cy="64.81" r="3.2" fill="none" stroke="#6a9e34" stroke-width="1.25"/>
<circle cx="656.63" cy="71.41" r="3.2" fill="none" stroke="#6a9e34" stroke-width="1.25"/>
<circle cx="659.02" cy="78.81" r="3.2" fill="none" stroke="#6a9e34" stroke-width="1.25"/>
<circle cx="661.40" cy="86.57" r="3.2" fill="none" stroke="#6a9e34" stroke-width="1.25"/>
<circle cx="663.78" cy="94.21" r="3.2" fill="none" stroke="#6a9e34" stroke-width="1.25"/>
<circle cx="666.17" cy="101.26" r="3.2" fill="none" stroke="#6a9e34" stroke-width="1.25"/>
<circle cx="668.55" cy="107.27" r="3.2" fill="none" stroke="#6a9e34" stroke-width="1.25"/>
<circle cx="670.93" cy="111.86" r="3.2" fill="none" stroke="#6a9e34" stroke-width="1.25"/>
<circle cx="673.32" cy="114.74" r="3.2" fill="none" stroke="#6a9e34" stroke-width="1.25"/>
<circle cx="675.70" cy="115.72" r="3.2" fill="none" stroke="#6a9e34" stroke-width="1.25"/>
<path d="M504.10 115.72 L504.34 115.71 L504.58 115.68 L504.81 115.63 L505.05 115.56 L505.29 115.47 L505.53 115.37 L505.77 115.24 L506.01 115.09 L506.25 114.93 L506.48 114.74 L506.72 114.54 L506.96 114.31 L507.20 114.07 L507.44 113.81 L507.68 113.53 L507.91 113.23 L508.15 112.92 L508.39 112.58 L508.63 112.23 L508.87 111.86 L509.11 111.48 L509.34 111.07 L509.58 110.65 L509.82 110.22 L510.06 109.77 L510.30 109.30 L510.54 108.81 L510.77 108.32 L511.01 107.80 L511.25 107.27 L511.49 106.73 L511.73 106.17 L511.97 105.60 L512.20 105.02 L512.44 104.42 L512.68 103.81 L512.92 103.19 L513.16 102.56 L513.39 101.92 L513.63 101.26 L513.87 100.60 L514.11 99.92 L514.35 99.24 L514.59 98.54 L514.83 97.84 L515.06 97.13 L515.30 96.41 L515.54 95.68 L515.78 94.95 L516.02 94.21 L516.25 93.47 L516.49 92.72 L516.73 91.96 L516.97 91.20 L517.21 90.43 L517.45 89.67 L517.69 88.90 L517.92 88.12 L518.16 87.35 L518.40 86.57 L518.64 85.79 L518.88 85.01 L519.12 84.23 L519.35 83.45 L519.59 82.67 L519.83 81.89 L520.07 81.12 L520.31 80.34 L520.55 79.57 L520.78 78.81 L521.02 78.04 L521.26 77.28 L521.50 76.53 L521.74 75.78 L521.98 75.03 L522.21 74.29 L522.45 73.56 L522.69 72.83 L522.93 72.12 L523.17 71.41 L523.40 70.70 L523.64 70.01 L523.88 69.32 L524.12 68.65 L524.36 67.98 L524.60 67.33 L524.84 66.68 L525.07 66.05 L525.31 65.43 L525.55 64.81 L525.79 64.22 L526.03 63.63 L526.26 63.05 L526.50 62.49 L526.74 61.95 L526.98 61.41 L527.22 60.89 L527.46 60.39 L527.70 59.90 L527.93 59.42 L528.17 58.96 L528.41 58.51 L528.65 58.08 L528.89 57.66 L529.12 57.27 L529.36 56.88 L529.60 56.52 L529.84 56.17 L530.08 55.83 L530.32 55.52 L530.56 55.22 L530.79 54.93 L531.03 54.67 L531.27 54.42 L531.51 54.19 L531.75 53.98 L531.99 53.78 L532.22 53.60 L532.46 53.44 L532.70 53.30 L532.94 53.17 L533.18 53.06 L533.42 52.97 L533.65 52.90 L533.89 52.85 L534.13 52.81 L534.37 52.79 L534.61 52.79 L534.85 52.80 L535.08 52.84 L535.32 52.89 L535.56 52.95 L535.80 53.04 L536.04 53.14 L536.27 53.25 L536.51 53.39 L536.75 53.54 L536.99 53.70 L537.23 53.88 L537.47 54.08 L537.71 54.29 L537.94 54.52 L538.18 54.76 L538.42 55.02 L538.66 55.29 L538.90 55.58 L539.13 55.88 L539.37 56.19 L539.61 56.52 L539.85 56.86 L540.09 57.21 L540.33 57.58 L540.57 57.95 L540.80 58.34 L541.04 58.74 L541.28 59.15 L541.52 59.57 L541.76 60.00 L542.00 60.44 L542.23 60.89 L542.47 61.35 L542.71 61.82 L542.95 62.30 L543.19 62.78 L543.43 63.27 L543.66 63.77 L543.90 64.27 L544.14 64.78 L544.38 65.30 L544.62 65.82 L544.86 66.34 L545.09 66.87 L545.33 67.40 L545.57 67.94 L545.81 68.48 L546.05 69.02 L546.29 69.56 L546.52 70.11 L546.76 70.65 L547.00 71.20 L547.24 71.75 L547.48 72.29 L547.72 72.84 L547.95 73.38 L548.19 73.92 L548.43 74.46 L548.67 75.00 L548.91 75.53 L549.14 76.06 L549.38 76.58 L549.62 77.10 L549.86 77.62 L550.10 78.13 L550.34 78.63 L550.58 79.13 L550.81 79.62 L551.05 80.10 L551.29 80.58 L551.53 81.05 L551.77 81.51 L552.00 81.96 L552.24 82.40 L552.48 82.83 L552.72 83.25 L552.96 83.66 L553.20 84.06 L553.44 84.45 L553.67 84.82 L553.91 85.19 L554.15 85.54 L554.39 85.88 L554.63 86.21 L554.87 86.52 L555.10 86.82 L555.34 87.11 L555.58 87.38 L555.82 87.64 L556.06 87.88 L556.30 88.11 L556.53 88.32 L556.77 88.52 L557.01 88.70 L557.25 88.86 L557.49 89.01 L557.73 89.15 L557.96 89.26 L558.20 89.36 L558.44 89.45 L558.68 89.51 L558.92 89.56 L559.16 89.60 L559.39 89.61 L559.63 89.61 L559.87 89.59 L560.11 89.55 L560.35 89.50 L560.59 89.43 L560.82 89.34 L561.06 89.23 L561.30 89.10 L561.54 88.96 L561.78 88.80 L562.01 88.62 L562.25 88.42 L562.49 88.21 L562.73 87.98 L562.97 87.73 L563.21 87.47 L563.45 87.18 L563.68 86.88 L563.92 86.57 L564.16 86.23 L564.40 85.88 L564.64 85.52 L564.88 85.13 L565.11 84.74 L565.35 84.32 L565.59 83.89 L565.83 83.44 L566.07 82.98 L566.31 82.50 L566.54 82.01 L566.78 81.51 L567.02 80.99 L567.26 80.45 L567.50 79.91 L567.74 79.35 L567.97 78.77 L568.21 78.18 L568.45 77.59 L568.69 76.97 L568.93 76.35 L569.17 75.72 L569.40 75.07 L569.64 74.42 L569.88 73.75 L570.12 73.08 L570.36 72.39 L570.60 71.70 L570.83 70.99 L571.07 70.28 L571.31 69.57 L571.55 68.84 L571.79 68.11 L572.03 67.37 L572.26 66.62 L572.50 65.87 L572.74 65.12 L572.98 64.36 L573.22 63.59 L573.46 62.83 L573.69 62.06 L573.93 61.28 L574.17 60.51 L574.41 59.73 L574.65 58.95 L574.88 58.17 L575.12 57.39 L575.36 56.61 L575.60 55.83 L575.84 55.05 L576.08 54.28 L576.32 53.50 L576.55 52.73 L576.79 51.97 L577.03 51.20 L577.27 50.44 L577.51 49.68 L577.75 48.93 L577.98 48.19 L578.22 47.45 L578.46 46.72 L578.70 45.99 L578.94 45.27 L579.18 44.56 L579.41 43.86 L579.65 43.16 L579.89 42.48 L580.13 41.80 L580.37 41.14 L580.61 40.48 L580.84 39.84 L581.08 39.21 L581.32 38.59 L581.56 37.98 L581.80 37.38 L582.04 36.80 L582.27 36.23 L582.51 35.67 L582.75 35.13 L582.99 34.60 L583.23 34.08 L583.47 33.59 L583.70 33.10 L583.94 32.63 L584.18 32.18 L584.42 31.75 L584.66 31.33 L584.89 30.92 L585.13 30.54 L585.37 30.17 L585.61 29.82 L585.85 29.48 L586.09 29.17 L586.33 28.87 L586.56 28.59 L586.80 28.33 L587.04 28.09 L587.28 27.86 L587.52 27.66 L587.75 27.47 L587.99 27.31 L588.23 27.16 L588.47 27.03 L588.71 26.93 L588.95 26.84 L589.19 26.77 L589.42 26.72 L589.66 26.69 L589.90 26.68 L590.14 26.69 L590.38 26.72 L590.62 26.77 L590.85 26.84 L591.09 26.93 L591.33 27.03 L591.57 27.16 L591.81 27.31 L592.05 27.47 L592.28 27.66 L592.52 27.86 L592.76 28.09 L593.00 28.33 L593.24 28.59 L593.48 28.87 L593.71 29.17 L593.95 29.48 L594.19 29.82 L594.43 30.17 L594.67 30.54 L594.90 30.92 L595.14 31.33 L595.38 31.75 L595.62 32.18 L595.86 32.63 L596.10 33.10 L596.34 33.59 L596.57 34.08 L596.81 34.60 L597.05 35.13 L597.29 35.67 L597.53 36.23 L597.76 36.80 L598.00 37.38 L598.24 37.98 L598.48 38.59 L598.72 39.21 L598.96 39.84 L599.20 40.48 L599.43 41.14 L599.67 41.80 L599.91 42.48 L600.15 43.16 L600.39 43.86 L600.62 44.56 L600.86 45.27 L601.10 45.99 L601.34 46.72 L601.58 47.45 L601.82 48.19 L602.06 48.93 L602.29 49.68 L602.53 50.44 L602.77 51.20 L603.01 51.97 L603.25 52.73 L603.49 53.50 L603.72 54.28 L603.96 55.05 L604.20 55.83 L604.44 56.61 L604.68 57.39 L604.92 58.17 L605.15 58.95 L605.39 59.73 L605.63 60.51 L605.87 61.28 L606.11 62.06 L606.35 62.83 L606.58 63.59 L606.82 64.36 L607.06 65.12 L607.30 65.87 L607.54 66.62 L607.78 67.37 L608.01 68.11 L608.25 68.84 L608.49 69.57 L608.73 70.28 L608.97 70.99 L609.21 71.70 L609.44 72.39 L609.68 73.08 L609.92 73.75 L610.16 74.42 L610.40 75.07 L610.63 75.72 L610.87 76.35 L611.11 76.97 L611.35 77.59 L611.59 78.18 L611.83 78.77 L612.07 79.35 L612.30 79.91 L612.54 80.45 L612.78 80.99 L613.02 81.51 L613.26 82.01 L613.50 82.50 L613.73 82.98 L613.97 83.44 L614.21 83.89 L614.45 84.32 L614.69 84.74 L614.93 85.13 L615.16 85.52 L615.40 85.88 L615.64 86.23 L615.88 86.57 L616.12 86.88 L616.36 87.18 L616.59 87.47 L616.83 87.73 L617.07 87.98 L617.31 88.21 L617.55 88.42 L617.79 88.62 L618.02 88.80 L618.26 88.96 L618.50 89.10 L618.74 89.23 L618.98 89.34 L619.22 89.43 L619.45 89.50 L619.69 89.55 L619.93 89.59 L620.17 89.61 L620.41 89.61 L620.64 89.60 L620.88 89.56 L621.12 89.51 L621.36 89.45 L621.60 89.36 L621.84 89.26 L622.08 89.15 L622.31 89.01 L622.55 88.86 L622.79 88.70 L623.03 88.52 L623.27 88.32 L623.50 88.11 L623.74 87.88 L623.98 87.64 L624.22 87.38 L624.46 87.11 L624.70 86.82 L624.94 86.52 L625.17 86.21 L625.41 85.88 L625.65 85.54 L625.89 85.19 L626.13 84.82 L626.37 84.45 L626.60 84.06 L626.84 83.66 L627.08 83.25 L627.32 82.83 L627.56 82.40 L627.80 81.96 L628.03 81.51 L628.27 81.05 L628.51 80.58 L628.75 80.10 L628.99 79.62 L629.23 79.13 L629.46 78.63 L629.70 78.13 L629.94 77.62 L630.18 77.10 L630.42 76.58 L630.66 76.06 L630.89 75.53 L631.13 75.00 L631.37 74.46 L631.61 73.92 L631.85 73.38 L632.09 72.84 L632.32 72.29 L632.56 71.75 L632.80 71.20 L633.04 70.65 L633.28 70.11 L633.52 69.56 L633.75 69.02 L633.99 68.48 L634.23 67.94 L634.47 67.40 L634.71 66.87 L634.95 66.34 L635.18 65.82 L635.42 65.30 L635.66 64.78 L635.90 64.27 L636.14 63.77 L636.38 63.27 L636.61 62.78 L636.85 62.30 L637.09 61.82 L637.33 61.35 L637.57 60.89 L637.81 60.44 L638.04 60.00 L638.28 59.57 L638.52 59.15 L638.76 58.74 L639.00 58.34 L639.24 57.95 L639.47 57.58 L639.71 57.21 L639.95 56.86 L640.19 56.52 L640.43 56.19 L640.66 55.88 L640.90 55.58 L641.14 55.29 L641.38 55.02 L641.62 54.76 L641.86 54.52 L642.10 54.29 L642.33 54.08 L642.57 53.88 L642.81 53.70 L643.05 53.54 L643.29 53.39 L643.53 53.25 L643.76 53.14 L644.00 53.04 L644.24 52.95 L644.48 52.89 L644.72 52.84 L644.96 52.80 L645.19 52.79 L645.43 52.79 L645.67 52.81 L645.91 52.85 L646.15 52.90 L646.38 52.97 L646.62 53.06 L646.86 53.17 L647.10 53.30 L647.34 53.44 L647.58 53.60 L647.82 53.78 L648.05 53.98 L648.29 54.19 L648.53 54.42 L648.77 54.67 L649.01 54.93 L649.25 55.22 L649.48 55.52 L649.72 55.83 L649.96 56.17 L650.20 56.52 L650.44 56.88 L650.68 57.27 L650.91 57.66 L651.15 58.08 L651.39 58.51 L651.63 58.96 L651.87 59.42 L652.11 59.90 L652.34 60.39 L652.58 60.89 L652.82 61.41 L653.06 61.95 L653.30 62.49 L653.54 63.05 L653.77 63.63 L654.01 64.22 L654.25 64.81 L654.49 65.43 L654.73 66.05 L654.97 66.68 L655.20 67.33 L655.44 67.98 L655.68 68.65 L655.92 69.32 L656.16 70.01 L656.39 70.70 L656.63 71.41 L656.87 72.12 L657.11 72.83 L657.35 73.56 L657.59 74.29 L657.83 75.03 L658.06 75.78 L658.30 76.53 L658.54 77.28 L658.78 78.04 L659.02 78.81 L659.26 79.57 L659.49 80.34 L659.73 81.12 L659.97 81.89 L660.21 82.67 L660.45 83.45 L660.69 84.23 L660.92 85.01 L661.16 85.79 L661.40 86.57 L661.64 87.35 L661.88 88.12 L662.12 88.90 L662.35 89.67 L662.59 90.43 L662.83 91.20 L663.07 91.96 L663.31 92.72 L663.55 93.47 L663.78 94.21 L664.02 94.95 L664.26 95.68 L664.50 96.41 L664.74 97.13 L664.98 97.84 L665.21 98.54 L665.45 99.24 L665.69 99.92 L665.93 100.60 L666.17 101.26 L666.40 101.92 L666.64 102.56 L666.88 103.19 L667.12 103.81 L667.36 104.42 L667.60 105.02 L667.84 105.60 L668.07 106.17 L668.31 106.73 L668.55 107.27 L668.79 107.80 L669.03 108.32 L669.27 108.81 L669.50 109.30 L669.74 109.77 L669.98 110.22 L670.22 110.65 L670.46 111.07 L670.70 111.48 L670.93 111.86 L671.17 112.23 L671.41 112.58 L671.65 112.92 L671.89 113.23 L672.12 113.53 L672.36 113.81 L672.60 114.07 L672.84 114.31 L673.08 114.54 L673.32 114.74 L673.56 114.93 L673.79 115.09 L674.03 115.24 L674.27 115.37 L674.51 115.47 L674.75 115.56 L674.99 115.63 L675.22 115.68 L675.46 115.71 L675.70 115.72" stroke="#2a6a2e" stroke-width="1.4" fill="none" stroke-dasharray="3 1.8" stroke-linejoin="round" />
<path d="M504.10 62.17 L504.34 62.17 L504.58 62.17 L504.81 62.17 L505.05 62.18 L505.29 62.18 L505.53 62.18 L505.77 62.19 L506.01 62.19 L506.25 62.20 L506.48 62.20 L506.72 62.21 L506.96 62.22 L507.20 62.23 L507.44 62.24 L507.68 62.25 L507.91 62.26 L508.15 62.27 L508.39 62.28 L508.63 62.29 L508.87 62.31 L509.11 62.32 L509.34 62.34 L509.58 62.35 L509.82 62.37 L510.06 62.38 L510.30 62.40 L510.54 62.42 L510.77 62.44 L511.01 62.46 L511.25 62.48 L511.49 62.50 L511.73 62.52 L511.97 62.54 L512.20 62.56 L512.44 62.59 L512.68 62.61 L512.92 62.64 L513.16 62.66 L513.39 62.69 L513.63 62.71 L513.87 62.74 L514.11 62.77 L514.35 62.80 L514.59 62.83 L514.83 62.86 L515.06 62.89 L515.30 62.92 L515.54 62.95 L515.78 62.98 L516.02 63.02 L516.25 63.05 L516.49 63.08 L516.73 63.12 L516.97 63.15 L517.21 63.19 L517.45 63.23 L517.69 63.26 L517.92 63.30 L518.16 63.34 L518.40 63.38 L518.64 63.42 L518.88 63.46 L519.12 63.50 L519.35 63.54 L519.59 63.58 L519.83 63.63 L520.07 63.67 L520.31 63.71 L520.55 63.76 L520.78 63.80 L521.02 63.85 L521.26 63.89 L521.50 63.94 L521.74 63.99 L521.98 64.04 L522.21 64.08 L522.45 64.13 L522.69 64.18 L522.93 64.23 L523.17 64.28 L523.40 64.33 L523.64 64.38 L523.88 64.44 L524.12 64.49 L524.36 64.54 L524.60 64.60 L524.84 64.65 L525.07 64.70 L525.31 64.76 L525.55 64.81 L525.79 64.87 L526.03 64.93 L526.26 64.98 L526.50 65.04 L526.74 65.10 L526.98 65.16 L527.22 65.22 L527.46 65.28 L527.70 65.34 L527.93 65.40 L528.17 65.46 L528.41 65.52 L528.65 65.58 L528.89 65.64 L529.12 65.70 L529.36 65.77 L529.60 65.83 L529.84 65.89 L530.08 65.96 L530.32 66.02 L530.56 66.09 L530.79 66.15 L531.03 66.22 L531.27 66.28 L531.51 66.35 L531.75 66.41 L531.99 66.48 L532.22 66.55 L532.46 66.62 L532.70 66.69 L532.94 66.75 L533.18 66.82 L533.42 66.89 L533.65 66.96 L533.89 67.03 L534.13 67.10 L534.37 67.17 L534.61 67.24 L534.85 67.31 L535.08 67.38 L535.32 67.46 L535.56 67.53 L535.80 67.60 L536.04 67.67 L536.27 67.74 L536.51 67.82 L536.75 67.89 L536.99 67.96 L537.23 68.04 L537.47 68.11 L537.71 68.19 L537.94 68.26 L538.18 68.33 L538.42 68.41 L538.66 68.48 L538.90 68.56 L539.13 68.64 L539.37 68.71 L539.61 68.79 L539.85 68.86 L540.09 68.94 L540.33 69.02 L540.57 69.09 L540.80 69.17 L541.04 69.25 L541.28 69.32 L541.52 69.40 L541.76 69.48 L542.00 69.55 L542.23 69.63 L542.47 69.71 L542.71 69.79 L542.95 69.87 L543.19 69.94 L543.43 70.02 L543.66 70.10 L543.90 70.18 L544.14 70.26 L544.38 70.33 L544.62 70.41 L544.86 70.49 L545.09 70.57 L545.33 70.65 L545.57 70.73 L545.81 70.81 L546.05 70.88 L546.29 70.96 L546.52 71.04 L546.76 71.12 L547.00 71.20 L547.24 71.28 L547.48 71.36 L547.72 71.44 L547.95 71.52 L548.19 71.59 L548.43 71.67 L548.67 71.75 L548.91 71.83 L549.14 71.91 L549.38 71.99 L549.62 72.07 L549.86 72.14 L550.10 72.22 L550.34 72.30 L550.58 72.38 L550.81 72.46 L551.05 72.53 L551.29 72.61 L551.53 72.69 L551.77 72.77 L552.00 72.85 L552.24 72.92 L552.48 73.00 L552.72 73.08 L552.96 73.15 L553.20 73.23 L553.44 73.31 L553.67 73.38 L553.91 73.46 L554.15 73.54 L554.39 73.61 L554.63 73.69 L554.87 73.76 L555.10 73.84 L555.34 73.92 L555.58 73.99 L555.82 74.07 L556.06 74.14 L556.30 74.21 L556.53 74.29 L556.77 74.36 L557.01 74.44 L557.25 74.51 L557.49 74.58 L557.73 74.66 L557.96 74.73 L558.20 74.80 L558.44 74.87 L558.68 74.94 L558.92 75.02 L559.16 75.09 L559.39 75.16 L559.63 75.23 L559.87 75.30 L560.11 75.37 L560.35 75.44 L560.59 75.51 L560.82 75.58 L561.06 75.65 L561.30 75.72 L561.54 75.78 L561.78 75.85 L562.01 75.92 L562.25 75.99 L562.49 76.05 L562.73 76.12 L562.97 76.18 L563.21 76.25 L563.45 76.31 L563.68 76.38 L563.92 76.44 L564.16 76.51 L564.40 76.57 L564.64 76.63 L564.88 76.70 L565.11 76.76 L565.35 76.82 L565.59 76.88 L565.83 76.94 L566.07 77.00 L566.31 77.06 L566.54 77.12 L566.78 77.18 L567.02 77.24 L567.26 77.30 L567.50 77.36 L567.74 77.42 L567.97 77.47 L568.21 77.53 L568.45 77.59 L568.69 77.64 L568.93 77.70 L569.17 77.75 L569.40 77.80 L569.64 77.86 L569.88 77.91 L570.12 77.96 L570.36 78.02 L570.60 78.07 L570.83 78.12 L571.07 78.17 L571.31 78.22 L571.55 78.27 L571.79 78.32 L572.03 78.36 L572.26 78.41 L572.50 78.46 L572.74 78.51 L572.98 78.55 L573.22 78.60 L573.46 78.64 L573.69 78.69 L573.93 78.73 L574.17 78.77 L574.41 78.82 L574.65 78.86 L574.88 78.90 L575.12 78.94 L575.36 78.98 L575.60 79.02 L575.84 79.06 L576.08 79.10 L576.32 79.14 L576.55 79.17 L576.79 79.21 L577.03 79.25 L577.27 79.28 L577.51 79.32 L577.75 79.35 L577.98 79.38 L578.22 79.42 L578.46 79.45 L578.70 79.48 L578.94 79.51 L579.18 79.54 L579.41 79.57 L579.65 79.60 L579.89 79.63 L580.13 79.66 L580.37 79.69 L580.61 79.71 L580.84 79.74 L581.08 79.76 L581.32 79.79 L581.56 79.81 L581.80 79.84 L582.04 79.86 L582.27 79.88 L582.51 79.90 L582.75 79.92 L582.99 79.94 L583.23 79.96 L583.47 79.98 L583.70 80.00 L583.94 80.02 L584.18 80.03 L584.42 80.05 L584.66 80.06 L584.89 80.08 L585.13 80.09 L585.37 80.11 L585.61 80.12 L585.85 80.13 L586.09 80.14 L586.33 80.15 L586.56 80.16 L586.80 80.17 L587.04 80.18 L587.28 80.19 L587.52 80.20 L587.75 80.20 L587.99 80.21 L588.23 80.21 L588.47 80.22 L588.71 80.22 L588.95 80.22 L589.19 80.23 L589.42 80.23 L589.66 80.23 L589.90 80.23 L590.14 80.23 L590.38 80.23 L590.62 80.23 L590.85 80.22 L591.09 80.22 L591.33 80.22 L591.57 80.21 L591.81 80.21 L592.05 80.20 L592.28 80.20 L592.52 80.19 L592.76 80.18 L593.00 80.17 L593.24 80.16 L593.48 80.15 L593.71 80.14 L593.95 80.13 L594.19 80.12 L594.43 80.11 L594.67 80.09 L594.90 80.08 L595.14 80.06 L595.38 80.05 L595.62 80.03 L595.86 80.02 L596.10 80.00 L596.34 79.98 L596.57 79.96 L596.81 79.94 L597.05 79.92 L597.29 79.90 L597.53 79.88 L597.76 79.86 L598.00 79.84 L598.24 79.81 L598.48 79.79 L598.72 79.76 L598.96 79.74 L599.20 79.71 L599.43 79.69 L599.67 79.66 L599.91 79.63 L600.15 79.60 L600.39 79.57 L600.62 79.54 L600.86 79.51 L601.10 79.48 L601.34 79.45 L601.58 79.42 L601.82 79.38 L602.06 79.35 L602.29 79.32 L602.53 79.28 L602.77 79.25 L603.01 79.21 L603.25 79.17 L603.49 79.14 L603.72 79.10 L603.96 79.06 L604.20 79.02 L604.44 78.98 L604.68 78.94 L604.92 78.90 L605.15 78.86 L605.39 78.82 L605.63 78.77 L605.87 78.73 L606.11 78.69 L606.35 78.64 L606.58 78.60 L606.82 78.55 L607.06 78.51 L607.30 78.46 L607.54 78.41 L607.78 78.36 L608.01 78.32 L608.25 78.27 L608.49 78.22 L608.73 78.17 L608.97 78.12 L609.21 78.07 L609.44 78.02 L609.68 77.96 L609.92 77.91 L610.16 77.86 L610.40 77.80 L610.63 77.75 L610.87 77.70 L611.11 77.64 L611.35 77.59 L611.59 77.53 L611.83 77.47 L612.07 77.42 L612.30 77.36 L612.54 77.30 L612.78 77.24 L613.02 77.18 L613.26 77.12 L613.50 77.06 L613.73 77.00 L613.97 76.94 L614.21 76.88 L614.45 76.82 L614.69 76.76 L614.93 76.70 L615.16 76.63 L615.40 76.57 L615.64 76.51 L615.88 76.44 L616.12 76.38 L616.36 76.31 L616.59 76.25 L616.83 76.18 L617.07 76.12 L617.31 76.05 L617.55 75.99 L617.79 75.92 L618.02 75.85 L618.26 75.78 L618.50 75.72 L618.74 75.65 L618.98 75.58 L619.22 75.51 L619.45 75.44 L619.69 75.37 L619.93 75.30 L620.17 75.23 L620.41 75.16 L620.64 75.09 L620.88 75.02 L621.12 74.94 L621.36 74.87 L621.60 74.80 L621.84 74.73 L622.08 74.66 L622.31 74.58 L622.55 74.51 L622.79 74.44 L623.03 74.36 L623.27 74.29 L623.50 74.21 L623.74 74.14 L623.98 74.07 L624.22 73.99 L624.46 73.92 L624.70 73.84 L624.94 73.76 L625.17 73.69 L625.41 73.61 L625.65 73.54 L625.89 73.46 L626.13 73.38 L626.37 73.31 L626.60 73.23 L626.84 73.15 L627.08 73.08 L627.32 73.00 L627.56 72.92 L627.80 72.85 L628.03 72.77 L628.27 72.69 L628.51 72.61 L628.75 72.53 L628.99 72.46 L629.23 72.38 L629.46 72.30 L629.70 72.22 L629.94 72.14 L630.18 72.07 L630.42 71.99 L630.66 71.91 L630.89 71.83 L631.13 71.75 L631.37 71.67 L631.61 71.59 L631.85 71.52 L632.09 71.44 L632.32 71.36 L632.56 71.28 L632.80 71.20 L633.04 71.12 L633.28 71.04 L633.52 70.96 L633.75 70.88 L633.99 70.81 L634.23 70.73 L634.47 70.65 L634.71 70.57 L634.95 70.49 L635.18 70.41 L635.42 70.33 L635.66 70.26 L635.90 70.18 L636.14 70.10 L636.38 70.02 L636.61 69.94 L636.85 69.87 L637.09 69.79 L637.33 69.71 L637.57 69.63 L637.81 69.55 L638.04 69.48 L638.28 69.40 L638.52 69.32 L638.76 69.25 L639.00 69.17 L639.24 69.09 L639.47 69.02 L639.71 68.94 L639.95 68.86 L640.19 68.79 L640.43 68.71 L640.66 68.64 L640.90 68.56 L641.14 68.48 L641.38 68.41 L641.62 68.33 L641.86 68.26 L642.10 68.19 L642.33 68.11 L642.57 68.04 L642.81 67.96 L643.05 67.89 L643.29 67.82 L643.53 67.74 L643.76 67.67 L644.00 67.60 L644.24 67.53 L644.48 67.46 L644.72 67.38 L644.96 67.31 L645.19 67.24 L645.43 67.17 L645.67 67.10 L645.91 67.03 L646.15 66.96 L646.38 66.89 L646.62 66.82 L646.86 66.75 L647.10 66.69 L647.34 66.62 L647.58 66.55 L647.82 66.48 L648.05 66.41 L648.29 66.35 L648.53 66.28 L648.77 66.22 L649.01 66.15 L649.25 66.09 L649.48 66.02 L649.72 65.96 L649.96 65.89 L650.20 65.83 L650.44 65.77 L650.68 65.70 L650.91 65.64 L651.15 65.58 L651.39 65.52 L651.63 65.46 L651.87 65.40 L652.11 65.34 L652.34 65.28 L652.58 65.22 L652.82 65.16 L653.06 65.10 L653.30 65.04 L653.54 64.98 L653.77 64.93 L654.01 64.87 L654.25 64.81 L654.49 64.76 L654.73 64.70 L654.97 64.65 L655.20 64.60 L655.44 64.54 L655.68 64.49 L655.92 64.44 L656.16 64.38 L656.39 64.33 L656.63 64.28 L656.87 64.23 L657.11 64.18 L657.35 64.13 L657.59 64.08 L657.83 64.04 L658.06 63.99 L658.30 63.94 L658.54 63.89 L658.78 63.85 L659.02 63.80 L659.26 63.76 L659.49 63.71 L659.73 63.67 L659.97 63.63 L660.21 63.58 L660.45 63.54 L660.69 63.50 L660.92 63.46 L661.16 63.42 L661.40 63.38 L661.64 63.34 L661.88 63.30 L662.12 63.26 L662.35 63.23 L662.59 63.19 L662.83 63.15 L663.07 63.12 L663.31 63.08 L663.55 63.05 L663.78 63.02 L664.02 62.98 L664.26 62.95 L664.50 62.92 L664.74 62.89 L664.98 62.86 L665.21 62.83 L665.45 62.80 L665.69 62.77 L665.93 62.74 L666.17 62.71 L666.40 62.69 L666.64 62.66 L666.88 62.64 L667.12 62.61 L667.36 62.59 L667.60 62.56 L667.84 62.54 L668.07 62.52 L668.31 62.50 L668.55 62.48 L668.79 62.46 L669.03 62.44 L669.27 62.42 L669.50 62.40 L669.74 62.38 L669.98 62.37 L670.22 62.35 L670.46 62.34 L670.70 62.32 L670.93 62.31 L671.17 62.29 L671.41 62.28 L671.65 62.27 L671.89 62.26 L672.12 62.25 L672.36 62.24 L672.60 62.23 L672.84 62.22 L673.08 62.21 L673.32 62.20 L673.56 62.20 L673.79 62.19 L674.03 62.19 L674.27 62.18 L674.51 62.18 L674.75 62.18 L674.99 62.17 L675.22 62.17 L675.46 62.17 L675.70 62.17" stroke="#f06888" stroke-width="1.5" fill="none" stroke-linejoin="round" />
<path d="M504.10 124.75 L504.34 124.74 L504.58 124.71 L504.81 124.66 L505.05 124.59 L505.29 124.50 L505.53 124.38 L505.77 124.25 L506.01 124.10 L506.25 123.93 L506.48 123.74 L506.72 123.52 L506.96 123.29 L507.20 123.04 L507.44 122.77 L507.68 122.48 L507.91 122.17 L508.15 121.85 L508.39 121.50 L508.63 121.14 L508.87 120.76 L509.11 120.36 L509.34 119.94 L509.58 119.50 L509.82 119.05 L510.06 118.58 L510.30 118.10 L510.54 117.60 L510.77 117.08 L511.01 116.54 L511.25 116.00 L511.49 115.43 L511.73 114.85 L511.97 114.26 L512.20 113.66 L512.44 113.04 L512.68 112.40 L512.92 111.76 L513.16 111.10 L513.39 110.43 L513.63 109.75 L513.87 109.06 L514.11 108.35 L514.35 107.64 L514.59 106.92 L514.83 106.18 L515.06 105.44 L515.30 104.69 L515.54 103.93 L515.78 103.17 L516.02 102.40 L516.25 101.62 L516.49 100.83 L516.73 100.04 L516.97 99.25 L517.21 98.44 L517.45 97.64 L517.69 96.83 L517.92 96.02 L518.16 95.20 L518.40 94.39 L518.64 93.57 L518.88 92.75 L519.12 91.93 L519.35 91.11 L519.59 90.29 L519.83 89.47 L520.07 88.65 L520.31 87.83 L520.55 87.02 L520.78 86.20 L521.02 85.39 L521.26 84.59 L521.50 83.79 L521.74 82.99 L521.98 82.20 L522.21 81.41 L522.45 80.63 L522.69 79.85 L522.93 79.08 L523.17 78.32 L523.40 77.57 L523.64 76.82 L523.88 76.09 L524.12 75.36 L524.36 74.64 L524.60 73.93 L524.84 73.23 L525.07 72.54 L525.31 71.87 L525.55 71.20 L525.79 70.54 L526.03 69.90 L526.26 69.27 L526.50 68.65 L526.74 68.05 L526.98 67.45 L527.22 66.88 L527.46 66.31 L527.70 65.76 L527.93 65.22 L528.17 64.70 L528.41 64.19 L528.65 63.70 L528.89 63.22 L529.12 62.76 L529.36 62.32 L529.60 61.89 L529.84 61.47 L530.08 61.08 L530.32 60.69 L530.56 60.33 L530.79 59.98 L531.03 59.65 L531.27 59.34 L531.51 59.04 L531.75 58.76 L531.99 58.50 L532.22 58.25 L532.46 58.02 L532.70 57.81 L532.94 57.62 L533.18 57.44 L533.42 57.28 L533.65 57.14 L533.89 57.02 L534.13 56.91 L534.37 56.82 L534.61 56.75 L534.85 56.69 L535.08 56.65 L535.32 56.63 L535.56 56.63 L535.80 56.64 L536.04 56.67 L536.27 56.71 L536.51 56.77 L536.75 56.85 L536.99 56.94 L537.23 57.05 L537.47 57.17 L537.71 57.31 L537.94 57.46 L538.18 57.63 L538.42 57.81 L538.66 58.01 L538.90 58.22 L539.13 58.44 L539.37 58.68 L539.61 58.93 L539.85 59.20 L540.09 59.47 L540.33 59.76 L540.57 60.06 L540.80 60.37 L541.04 60.70 L541.28 61.03 L541.52 61.37 L541.76 61.73 L542.00 62.09 L542.23 62.46 L542.47 62.84 L542.71 63.23 L542.95 63.63 L543.19 64.04 L543.43 64.45 L543.66 64.87 L543.90 65.29 L544.14 65.72 L544.38 66.16 L544.62 66.60 L544.86 67.05 L545.09 67.50 L545.33 67.96 L545.57 68.41 L545.81 68.87 L546.05 69.34 L546.29 69.80 L546.52 70.27 L546.76 70.73 L547.00 71.20 L547.24 71.67 L547.48 72.13 L547.72 72.60 L547.95 73.06 L548.19 73.53 L548.43 73.99 L548.67 74.44 L548.91 74.90 L549.14 75.35 L549.38 75.80 L549.62 76.24 L549.86 76.68 L550.10 77.11 L550.34 77.53 L550.58 77.95 L550.81 78.36 L551.05 78.77 L551.29 79.17 L551.53 79.56 L551.77 79.94 L552.00 80.31 L552.24 80.67 L552.48 81.03 L552.72 81.37 L552.96 81.70 L553.20 82.03 L553.44 82.34 L553.67 82.64 L553.91 82.93 L554.15 83.20 L554.39 83.47 L554.63 83.72 L554.87 83.96 L555.10 84.18 L555.34 84.39 L555.58 84.59 L555.82 84.77 L556.06 84.94 L556.30 85.09 L556.53 85.23 L556.77 85.35 L557.01 85.46 L557.25 85.55 L557.49 85.63 L557.73 85.69 L557.96 85.73 L558.20 85.76 L558.44 85.77 L558.68 85.77 L558.92 85.75 L559.16 85.71 L559.39 85.65 L559.63 85.58 L559.87 85.49 L560.11 85.38 L560.35 85.26 L560.59 85.12 L560.82 84.96 L561.06 84.78 L561.30 84.59 L561.54 84.38 L561.78 84.15 L562.01 83.90 L562.25 83.64 L562.49 83.36 L562.73 83.06 L562.97 82.75 L563.21 82.42 L563.45 82.07 L563.68 81.71 L563.92 81.32 L564.16 80.93 L564.40 80.51 L564.64 80.08 L564.88 79.64 L565.11 79.18 L565.35 78.70 L565.59 78.21 L565.83 77.70 L566.07 77.18 L566.31 76.64 L566.54 76.09 L566.78 75.52 L567.02 74.95 L567.26 74.35 L567.50 73.75 L567.74 73.13 L567.97 72.50 L568.21 71.86 L568.45 71.20 L568.69 70.53 L568.93 69.86 L569.17 69.17 L569.40 68.47 L569.64 67.76 L569.88 67.04 L570.12 66.31 L570.36 65.58 L570.60 64.83 L570.83 64.08 L571.07 63.32 L571.31 62.55 L571.55 61.77 L571.79 60.99 L572.03 60.20 L572.26 59.41 L572.50 58.61 L572.74 57.81 L572.98 57.01 L573.22 56.20 L573.46 55.38 L573.69 54.57 L573.93 53.75 L574.17 52.93 L574.41 52.11 L574.65 51.29 L574.88 50.47 L575.12 49.65 L575.36 48.83 L575.60 48.01 L575.84 47.20 L576.08 46.38 L576.32 45.57 L576.55 44.76 L576.79 43.96 L577.03 43.15 L577.27 42.36 L577.51 41.57 L577.75 40.78 L577.98 40.00 L578.22 39.23 L578.46 38.47 L578.70 37.71 L578.94 36.96 L579.18 36.22 L579.41 35.48 L579.65 34.76 L579.89 34.05 L580.13 33.34 L580.37 32.65 L580.61 31.97 L580.84 31.30 L581.08 30.64 L581.32 30.00 L581.56 29.36 L581.80 28.74 L582.04 28.14 L582.27 27.55 L582.51 26.97 L582.75 26.40 L582.99 25.86 L583.23 25.32 L583.47 24.80 L583.70 24.30 L583.94 23.82 L584.18 23.35 L584.42 22.90 L584.66 22.46 L584.89 22.04 L585.13 21.64 L585.37 21.26 L585.61 20.90 L585.85 20.55 L586.09 20.23 L586.33 19.92 L586.56 19.63 L586.80 19.36 L587.04 19.11 L587.28 18.88 L587.52 18.66 L587.75 18.47 L587.99 18.30 L588.23 18.15 L588.47 18.02 L588.71 17.90 L588.95 17.81 L589.19 17.74 L589.42 17.69 L589.66 17.66 L589.90 17.65 L590.14 17.66 L590.38 17.69 L590.62 17.74 L590.85 17.81 L591.09 17.90 L591.33 18.02 L591.57 18.15 L591.81 18.30 L592.05 18.47 L592.28 18.66 L592.52 18.88 L592.76 19.11 L593.00 19.36 L593.24 19.63 L593.48 19.92 L593.71 20.23 L593.95 20.55 L594.19 20.90 L594.43 21.26 L594.67 21.64 L594.90 22.04 L595.14 22.46 L595.38 22.90 L595.62 23.35 L595.86 23.82 L596.10 24.30 L596.34 24.80 L596.57 25.32 L596.81 25.86 L597.05 26.40 L597.29 26.97 L597.53 27.55 L597.76 28.14 L598.00 28.74 L598.24 29.36 L598.48 30.00 L598.72 30.64 L598.96 31.30 L599.20 31.97 L599.43 32.65 L599.67 33.34 L599.91 34.05 L600.15 34.76 L600.39 35.48 L600.62 36.22 L600.86 36.96 L601.10 37.71 L601.34 38.47 L601.58 39.23 L601.82 40.00 L602.06 40.78 L602.29 41.57 L602.53 42.36 L602.77 43.15 L603.01 43.96 L603.25 44.76 L603.49 45.57 L603.72 46.38 L603.96 47.20 L604.20 48.01 L604.44 48.83 L604.68 49.65 L604.92 50.47 L605.15 51.29 L605.39 52.11 L605.63 52.93 L605.87 53.75 L606.11 54.57 L606.35 55.38 L606.58 56.20 L606.82 57.01 L607.06 57.81 L607.30 58.61 L607.54 59.41 L607.78 60.20 L608.01 60.99 L608.25 61.77 L608.49 62.55 L608.73 63.32 L608.97 64.08 L609.21 64.83 L609.44 65.58 L609.68 66.31 L609.92 67.04 L610.16 67.76 L610.40 68.47 L610.63 69.17 L610.87 69.86 L611.11 70.53 L611.35 71.20 L611.59 71.86 L611.83 72.50 L612.07 73.13 L612.30 73.75 L612.54 74.35 L612.78 74.95 L613.02 75.52 L613.26 76.09 L613.50 76.64 L613.73 77.18 L613.97 77.70 L614.21 78.21 L614.45 78.70 L614.69 79.18 L614.93 79.64 L615.16 80.08 L615.40 80.51 L615.64 80.93 L615.88 81.32 L616.12 81.71 L616.36 82.07 L616.59 82.42 L616.83 82.75 L617.07 83.06 L617.31 83.36 L617.55 83.64 L617.79 83.90 L618.02 84.15 L618.26 84.38 L618.50 84.59 L618.74 84.78 L618.98 84.96 L619.22 85.12 L619.45 85.26 L619.69 85.38 L619.93 85.49 L620.17 85.58 L620.41 85.65 L620.64 85.71 L620.88 85.75 L621.12 85.77 L621.36 85.77 L621.60 85.76 L621.84 85.73 L622.08 85.69 L622.31 85.63 L622.55 85.55 L622.79 85.46 L623.03 85.35 L623.27 85.23 L623.50 85.09 L623.74 84.94 L623.98 84.77 L624.22 84.59 L624.46 84.39 L624.70 84.18 L624.94 83.96 L625.17 83.72 L625.41 83.47 L625.65 83.20 L625.89 82.93 L626.13 82.64 L626.37 82.34 L626.60 82.03 L626.84 81.70 L627.08 81.37 L627.32 81.03 L627.56 80.67 L627.80 80.31 L628.03 79.94 L628.27 79.56 L628.51 79.17 L628.75 78.77 L628.99 78.36 L629.23 77.95 L629.46 77.53 L629.70 77.11 L629.94 76.68 L630.18 76.24 L630.42 75.80 L630.66 75.35 L630.89 74.90 L631.13 74.44 L631.37 73.99 L631.61 73.53 L631.85 73.06 L632.09 72.60 L632.32 72.13 L632.56 71.67 L632.80 71.20 L633.04 70.73 L633.28 70.27 L633.52 69.80 L633.75 69.34 L633.99 68.87 L634.23 68.41 L634.47 67.96 L634.71 67.50 L634.95 67.05 L635.18 66.60 L635.42 66.16 L635.66 65.72 L635.90 65.29 L636.14 64.87 L636.38 64.45 L636.61 64.04 L636.85 63.63 L637.09 63.23 L637.33 62.84 L637.57 62.46 L637.81 62.09 L638.04 61.73 L638.28 61.37 L638.52 61.03 L638.76 60.70 L639.00 60.37 L639.24 60.06 L639.47 59.76 L639.71 59.47 L639.95 59.20 L640.19 58.93 L640.43 58.68 L640.66 58.44 L640.90 58.22 L641.14 58.01 L641.38 57.81 L641.62 57.63 L641.86 57.46 L642.10 57.31 L642.33 57.17 L642.57 57.05 L642.81 56.94 L643.05 56.85 L643.29 56.77 L643.53 56.71 L643.76 56.67 L644.00 56.64 L644.24 56.63 L644.48 56.63 L644.72 56.65 L644.96 56.69 L645.19 56.75 L645.43 56.82 L645.67 56.91 L645.91 57.02 L646.15 57.14 L646.38 57.28 L646.62 57.44 L646.86 57.62 L647.10 57.81 L647.34 58.02 L647.58 58.25 L647.82 58.50 L648.05 58.76 L648.29 59.04 L648.53 59.34 L648.77 59.65 L649.01 59.98 L649.25 60.33 L649.48 60.69 L649.72 61.08 L649.96 61.47 L650.20 61.89 L650.44 62.32 L650.68 62.76 L650.91 63.22 L651.15 63.70 L651.39 64.19 L651.63 64.70 L651.87 65.22 L652.11 65.76 L652.34 66.31 L652.58 66.88 L652.82 67.45 L653.06 68.05 L653.30 68.65 L653.54 69.27 L653.77 69.90 L654.01 70.54 L654.25 71.20 L654.49 71.87 L654.73 72.54 L654.97 73.23 L655.20 73.93 L655.44 74.64 L655.68 75.36 L655.92 76.09 L656.16 76.82 L656.39 77.57 L656.63 78.32 L656.87 79.08 L657.11 79.85 L657.35 80.63 L657.59 81.41 L657.83 82.20 L658.06 82.99 L658.30 83.79 L658.54 84.59 L658.78 85.39 L659.02 86.20 L659.26 87.02 L659.49 87.83 L659.73 88.65 L659.97 89.47 L660.21 90.29 L660.45 91.11 L660.69 91.93 L660.92 92.75 L661.16 93.57 L661.40 94.39 L661.64 95.20 L661.88 96.02 L662.12 96.83 L662.35 97.64 L662.59 98.44 L662.83 99.25 L663.07 100.04 L663.31 100.83 L663.55 101.62 L663.78 102.40 L664.02 103.17 L664.26 103.93 L664.50 104.69 L664.74 105.44 L664.98 106.18 L665.21 106.92 L665.45 107.64 L665.69 108.35 L665.93 109.06 L666.17 109.75 L666.40 110.43 L666.64 111.10 L666.88 111.76 L667.12 112.40 L667.36 113.04 L667.60 113.66 L667.84 114.26 L668.07 114.85 L668.31 115.43 L668.55 116.00 L668.79 116.54 L669.03 117.08 L669.27 117.60 L669.50 118.10 L669.74 118.58 L669.98 119.05 L670.22 119.50 L670.46 119.94 L670.70 120.36 L670.93 120.76 L671.17 121.14 L671.41 121.50 L671.65 121.85 L671.89 122.17 L672.12 122.48 L672.36 122.77 L672.60 123.04 L672.84 123.29 L673.08 123.52 L673.32 123.74 L673.56 123.93 L673.79 124.10 L674.03 124.25 L674.27 124.38 L674.51 124.50 L674.75 124.59 L674.99 124.66 L675.22 124.71 L675.46 124.74 L675.70 124.75" stroke="#8a2ee6" stroke-width="2.1" fill="none" stroke-linejoin="round" />
</g>
<rect x="504.10" y="8.20" width="171.60" height="131.20" fill="none" stroke="#262626" stroke-width="1.3"/>
<path d="M504.10 139.40v-3.0M504.10 8.20v3.0M525.55 139.40v-1.8M525.55 8.20v1.8M547.00 139.40v-3.0M547.00 8.20v3.0M568.45 139.40v-1.8M568.45 8.20v1.8M589.90 139.40v-3.0M589.90 8.20v3.0M611.35 139.40v-1.8M611.35 8.20v1.8M632.80 139.40v-3.0M632.80 8.20v3.0M654.25 139.40v-1.8M654.25 8.20v1.8M675.70 139.40v-3.0M675.70 8.20v3.0M504.10 134.20h3.0M504.10 123.70h1.8M504.10 113.20h3.0M504.10 102.70h1.8M504.10 92.20h3.0M504.10 81.70h1.8M504.10 71.20h3.0M504.10 60.70h1.8M504.10 50.20h3.0M504.10 39.70h1.8M504.10 29.20h3.0M504.10 18.70h1.8M504.10 8.20h3.0" stroke="#262626" stroke-width="1" fill="none"/>
<text x="500.60" y="11.80" font-size="10" text-anchor="end" fill="#111" >15</text>
<text x="500.60" y="32.80" font-size="10" text-anchor="end" fill="#111" >10</text>
<text x="500.60" y="53.80" font-size="10" text-anchor="end" fill="#111" >5</text>
<text x="500.60" y="74.80" font-size="10" text-anchor="end" fill="#111" >0</text>
<text x="500.60" y="95.80" font-size="10" text-anchor="end" fill="#111" >-5</text>
<text x="500.60" y="116.80" font-size="10" text-anchor="end" fill="#111" >-10</text>
<text x="500.60" y="137.80" font-size="10" text-anchor="end" fill="#111" >-15</text>
<text x="504.10" y="151.20" font-size="10" text-anchor="middle" fill="#111" >0</text>
<text x="547.00" y="151.20" font-size="10" text-anchor="middle" fill="#111" >90</text>
<text x="589.90" y="151.20" font-size="10" text-anchor="middle" fill="#111" >180</text>
<text x="632.80" y="151.20" font-size="10" text-anchor="middle" fill="#111" >270</text>
<text x="675.70" y="151.20" font-size="10" text-anchor="middle" fill="#111" >360</text>
<text x="570.3" y="169.2" font-size="13" font-family="Liberation Serif" font-style="italic" fill="#111">φ</text>
<text x="579.40" y="169.20" font-size="11.6" text-anchor="start" fill="#111" >(deg.)</text>
<text transform="translate(480.0,98.6) rotate(-90)" font-size="11.3" fill="#111"><tspan font-style="italic">R</tspan><tspan font-size="7.5" dy="2.5" font-style="italic">xy</tspan><tspan font-size="8" dy="-7.5" dx="-8" font-family="Liberation Serif" font-style="italic">2ω</tspan><tspan dy="5" dx="1"> (mΩ)</tspan></text>
<text x="514.0" y="24.5" font-size="10" fill="#111">t<tspan font-size="6.8" dy="2.4">NiO</tspan><tspan dy="-2.4"> = 2 nm</tspan></text>
<text x="515.40" y="41.00" font-size="10" text-anchor="start" fill="#111" >H = 20 mT</text>
<circle cx="614.9" cy="25.3" r="3.3" fill="none" stroke="#6a9e34" stroke-width="1.3"/>
<text x="629.00" y="28.80" font-size="10" text-anchor="start" fill="#111" >Raw data</text>
<path d="M537.3 100 H561" stroke="#2a6a2e" stroke-width="1.5" stroke-dasharray="3.2 2"/>
<path d="M537.3 114.4 H561" stroke="#f06888" stroke-width="1.5"/>
<path d="M537.3 129.6 H561" stroke="#8a2ee6" stroke-width="2.1"/>
<text x="563.40" y="103.00" font-size="10" text-anchor="start" fill="#111" >Envelope</text>
<text x="563.4" y="117.5" font-size="10" fill="#111"><tspan font-style="italic">R</tspan><tspan font-size="7" dy="2.2">DL+∇T</tspan><tspan dy="-2.2">cos</tspan><tspan font-family="Liberation Serif" font-style="italic" font-size="11">φ</tspan></text>
<text x="563.4" y="132.7" font-size="10" fill="#111"><tspan font-style="italic">R</tspan><tspan font-size="7" dy="2.2">FL+Oe</tspan><tspan dy="-2.2">(2cos</tspan><tspan font-size="7" dy="-4">3</tspan><tspan font-family="Liberation Serif" font-style="italic" font-size="11" dy="4">φ</tspan><tspan> − cos</tspan><tspan font-family="Liberation Serif" font-style="italic" font-size="11">φ</tspan><tspan>)</tspan></text>
<path d="M40.00 318.77 L211.84 206.08" stroke="#f4484a" stroke-width="1.5" fill="none" stroke-linejoin="round" />
<path d="M40.00 319.89 L211.84 231.39" stroke="#e2a638" stroke-width="1.5" fill="none" stroke-linejoin="round" />
<path d="M40.00 320.93 L211.84 247.99" stroke="#a9c93a" stroke-width="1.5" fill="none" stroke-linejoin="round" />
<path d="M40.00 322.80 L211.84 279.30" stroke="#5b8c2c" stroke-width="1.5" fill="none" stroke-linejoin="round" />
<path d="M75.80 289.89V300.58M73.30 289.89h5M73.30 300.58h5" stroke="#f4484a" stroke-width="1.1"/>
<circle cx="75.80" cy="295.24" r="4.0" fill="#f4484a"/>
<path d="M103.01 273.11V281.93M100.51 273.11h5M100.51 281.93h5" stroke="#f4484a" stroke-width="1.1"/>
<circle cx="103.01" cy="277.52" r="4.0" fill="#f4484a"/>
<path d="M131.65 252.77V260.27M129.15 252.77h5M129.15 260.27h5" stroke="#f4484a" stroke-width="1.1"/>
<circle cx="131.65" cy="256.52" r="4.0" fill="#f4484a"/>
<path d="M161.72 234.96V242.46M159.22 234.96h5M159.22 242.46h5" stroke="#f4484a" stroke-width="1.1"/>
<circle cx="161.72" cy="238.71" r="4.0" fill="#f4484a"/>
<path d="M176.04 226.43V234.86M173.54 226.43h5M173.54 234.86h5" stroke="#f4484a" stroke-width="1.1"/>
<circle cx="176.04" cy="230.64" r="4.0" fill="#f4484a"/>
<path d="M190.36 214.14V222.96M187.86 214.14h5M187.86 222.96h5" stroke="#f4484a" stroke-width="1.1"/>
<circle cx="190.36" cy="218.55" r="4.0" fill="#f4484a"/>
<path d="M75.80 299.93V308.36M73.30 299.93h5M73.30 308.36h5" stroke="#e2a638" stroke-width="1.1"/>
<circle cx="75.80" cy="304.14" r="4.0" fill="#e2a638"/>
<path d="M103.01 284.18V292.99M100.51 284.18h5M100.51 292.99h5" stroke="#e2a638" stroke-width="1.1"/>
<circle cx="103.01" cy="288.58" r="4.0" fill="#e2a638"/>
<path d="M131.65 265.61V276.68M129.15 265.61h5M129.15 276.68h5" stroke="#e2a638" stroke-width="1.1"/>
<circle cx="131.65" cy="271.14" r="4.0" fill="#e2a638"/>
<path d="M161.72 251.93V261.11M159.22 251.93h5M159.22 261.11h5" stroke="#e2a638" stroke-width="1.1"/>
<circle cx="161.72" cy="256.52" r="4.0" fill="#e2a638"/>
<path d="M176.04 247.05V254.55M173.54 247.05h5M173.54 254.55h5" stroke="#e2a638" stroke-width="1.1"/>
<circle cx="176.04" cy="250.80" r="4.0" fill="#e2a638"/>
<path d="M190.36 237.21V247.52M187.86 237.21h5M187.86 247.52h5" stroke="#e2a638" stroke-width="1.1"/>
<circle cx="190.36" cy="242.36" r="4.0" fill="#e2a638"/>
<path d="M75.80 300.58V309.77M73.30 300.58h5M73.30 309.77h5" stroke="#a9c93a" stroke-width="1.1"/>
<circle cx="75.80" cy="305.18" r="4.0" fill="#a9c93a"/>
<path d="M103.01 292.14V301.33M100.51 292.14h5M100.51 301.33h5" stroke="#a9c93a" stroke-width="1.1"/>
<circle cx="103.01" cy="296.74" r="4.0" fill="#a9c93a"/>
<path d="M131.65 279.39V290.46M129.15 279.39h5M129.15 290.46h5" stroke="#a9c93a" stroke-width="1.1"/>
<circle cx="131.65" cy="284.93" r="4.0" fill="#a9c93a"/>
<path d="M161.72 263.18V273.49M159.22 263.18h5M159.22 273.49h5" stroke="#a9c93a" stroke-width="1.1"/>
<circle cx="161.72" cy="268.33" r="4.0" fill="#a9c93a"/>
<path d="M176.04 261.02V269.46M173.54 261.02h5M173.54 269.46h5" stroke="#a9c93a" stroke-width="1.1"/>
<circle cx="176.04" cy="265.24" r="4.0" fill="#a9c93a"/>
<path d="M190.36 251.64V262.71M187.86 251.64h5M187.86 262.71h5" stroke="#a9c93a" stroke-width="1.1"/>
<circle cx="190.36" cy="257.18" r="4.0" fill="#a9c93a"/>
<path d="M75.80 308.83V319.89M73.30 308.83h5M73.30 319.89h5" stroke="#5b8c2c" stroke-width="1.1"/>
<circle cx="75.80" cy="314.36" r="4.0" fill="#5b8c2c"/>
<path d="M103.01 303.96V312.39M100.51 303.96h5M100.51 312.39h5" stroke="#5b8c2c" stroke-width="1.1"/>
<circle cx="103.01" cy="308.18" r="4.0" fill="#5b8c2c"/>
<path d="M131.65 295.89V303.39M129.15 295.89h5M129.15 303.39h5" stroke="#5b8c2c" stroke-width="1.1"/>
<circle cx="131.65" cy="299.64" r="4.0" fill="#5b8c2c"/>
<path d="M161.72 289.52V296.46M159.22 289.52h5M159.22 296.46h5" stroke="#5b8c2c" stroke-width="1.1"/>
<circle cx="161.72" cy="292.99" r="4.0" fill="#5b8c2c"/>
<path d="M176.04 284.83V292.33M173.54 284.83h5M173.54 292.33h5" stroke="#5b8c2c" stroke-width="1.1"/>
<circle cx="176.04" cy="288.58" r="4.0" fill="#5b8c2c"/>
<path d="M190.36 279.86V292.05M187.86 279.86h5M187.86 292.05h5" stroke="#5b8c2c" stroke-width="1.1"/>
<circle cx="190.36" cy="285.96" r="4.0" fill="#5b8c2c"/>
<rect x="39.80" y="201.40" width="172.00" height="130.90" fill="none" stroke="#262626" stroke-width="1.3"/>
<path d="M40.00 332.30v-1.8M40.00 201.40v1.8M54.32 332.30v-3.0M54.32 201.40v3.0M68.64 332.30v-1.8M68.64 201.40v1.8M82.96 332.30v-3.0M82.96 201.40v3.0M97.28 332.30v-1.8M97.28 201.40v1.8M111.60 332.30v-3.0M111.60 201.40v3.0M125.92 332.30v-1.8M125.92 201.40v1.8M140.24 332.30v-3.0M140.24 201.40v3.0M154.56 332.30v-1.8M154.56 201.40v1.8M168.88 332.30v-3.0M168.88 201.40v3.0M183.20 332.30v-1.8M183.20 201.40v1.8M197.52 332.30v-3.0M197.52 201.40v3.0M211.84 332.30v-1.8M211.84 201.40v1.8M39.80 322.80h3.0M39.80 304.05h1.8M39.80 285.30h3.0M39.80 266.55h1.8M39.80 247.80h3.0M39.80 229.05h1.8M39.80 210.30h3.0" stroke="#262626" stroke-width="1" fill="none"/>
<text x="36.90" y="326.40" font-size="10" text-anchor="end" fill="#111" >0.04</text>
<text x="36.90" y="288.90" font-size="10" text-anchor="end" fill="#111" >0.08</text>
<text x="36.90" y="251.40" font-size="10" text-anchor="end" fill="#111" >0.12</text>
<text x="36.90" y="213.90" font-size="10" text-anchor="end" fill="#111" >0.16</text>
<text x="54.32" y="343.60" font-size="10" text-anchor="middle" fill="#111" >0.2</text>
<text x="82.96" y="343.60" font-size="10" text-anchor="middle" fill="#111" >0.4</text>
<text x="111.60" y="343.60" font-size="10" text-anchor="middle" fill="#111" >0.6</text>
<text x="140.24" y="343.60" font-size="10" text-anchor="middle" fill="#111" >0.8</text>
<text x="168.88" y="343.60" font-size="10" text-anchor="middle" fill="#111" >1.0</text>
<text x="197.52" y="343.60" font-size="10" text-anchor="middle" fill="#111" >1.2</text>
<circle cx="57.9" cy="215.40" r="3.9" fill="#f4484a"/>
<text x="72.50" y="219.00" font-size="10" text-anchor="start" fill="#111" >2 nm</text>
<circle cx="57.9" cy="227.70" r="3.9" fill="#e2a638"/>
<text x="72.50" y="231.30" font-size="10" text-anchor="start" fill="#111" >1 nm</text>
<circle cx="57.9" cy="240.00" r="3.9" fill="#a9c93a"/>
<text x="72.50" y="243.60" font-size="10" text-anchor="start" fill="#111" >0 nm</text>
<circle cx="57.9" cy="252.30" r="3.9" fill="#5b8c2c"/>
<text x="72.50" y="255.90" font-size="10" text-anchor="start" fill="#111" >6 nm</text>
<text x="85.6" y="362.0" font-size="11.5" fill="#111">1/(<tspan font-style="italic">H</tspan><tspan font-size="7.8" dy="2.6">K</tspan><tspan dy="-2.6">+</tspan><tspan font-style="italic">H</tspan><tspan font-size="7.8" dy="2.6">ext</tspan><tspan dy="-2.6">) (T</tspan><tspan font-size="7.8" dy="-4.3">-1</tspan><tspan dy="4.3">)</tspan></text>
<text transform="translate(10.8,296.8) rotate(-90)" font-size="11.5" fill="#111"><tspan font-style="italic">R</tspan><tspan font-size="8" dy="2.6">DL+∇T</tspan><tspan dy="-2.6">/</tspan><tspan font-style="italic">R</tspan><tspan font-size="8" dy="2.6">AHE</tspan></text>
<path d="M275.40 321.40 L441.00 213.02" stroke="#f4484a" stroke-width="1.5" fill="none" stroke-linejoin="round" />
<path d="M275.40 321.40 L441.00 242.20" stroke="#e2a638" stroke-width="1.5" fill="none" stroke-linejoin="round" />
<path d="M275.40 321.40 L441.00 258.87" stroke="#a9c93a" stroke-width="1.5" fill="none" stroke-linejoin="round" />
<path d="M275.40 321.40 L441.00 273.46" stroke="#5b8c2c" stroke-width="1.5" fill="none" stroke-linejoin="round" />
<path d="M278.59 314.36V324.41M276.09 314.36h5M276.09 324.41h5" stroke="#f4484a" stroke-width="1.1"/>
<circle cx="278.59" cy="319.39" r="4.0" fill="#f4484a"/>
<path d="M281.79 312.35V322.40M279.29 312.35h5M279.29 322.40h5" stroke="#f4484a" stroke-width="1.1"/>
<circle cx="281.79" cy="317.38" r="4.0" fill="#f4484a"/>
<path d="M291.37 307.13V313.16M288.87 307.13h5M288.87 313.16h5" stroke="#f4484a" stroke-width="1.1"/>
<circle cx="291.37" cy="310.14" r="4.0" fill="#f4484a"/>
<path d="M307.34 297.08V309.14M304.84 297.08h5M304.84 309.14h5" stroke="#f4484a" stroke-width="1.1"/>
<circle cx="307.34" cy="303.11" r="4.0" fill="#f4484a"/>
<path d="M435.10 210.85V220.90M432.60 210.85h5M432.60 220.90h5" stroke="#f4484a" stroke-width="1.1"/>
<circle cx="435.10" cy="215.87" r="4.0" fill="#f4484a"/>
<path d="M278.59 315.17V325.22M276.09 315.17h5M276.09 325.22h5" stroke="#e2a638" stroke-width="1.1"/>
<circle cx="278.59" cy="320.19" r="4.0" fill="#e2a638"/>
<path d="M281.79 313.56V323.61M279.29 313.56h5M279.29 323.61h5" stroke="#e2a638" stroke-width="1.1"/>
<circle cx="281.79" cy="318.58" r="4.0" fill="#e2a638"/>
<path d="M291.37 310.34V316.37M288.87 310.34h5M288.87 316.37h5" stroke="#e2a638" stroke-width="1.1"/>
<circle cx="291.37" cy="313.36" r="4.0" fill="#e2a638"/>
<path d="M307.34 301.70V309.74M304.84 301.70h5M304.84 309.74h5" stroke="#e2a638" stroke-width="1.1"/>
<circle cx="307.34" cy="305.72" r="4.0" fill="#e2a638"/>
<path d="M435.10 239.39V252.66M432.60 239.39h5M432.60 252.66h5" stroke="#e2a638" stroke-width="1.1"/>
<circle cx="435.10" cy="246.02" r="4.0" fill="#e2a638"/>
<path d="M278.59 315.97V326.02M276.09 315.97h5M276.09 326.02h5" stroke="#a9c93a" stroke-width="1.1"/>
<circle cx="278.59" cy="321.00" r="4.0" fill="#a9c93a"/>
<path d="M281.79 314.77V324.81M279.29 314.77h5M279.29 324.81h5" stroke="#a9c93a" stroke-width="1.1"/>
<circle cx="281.79" cy="319.79" r="4.0" fill="#a9c93a"/>
<path d="M291.37 312.35V318.38M288.87 312.35h5M288.87 318.38h5" stroke="#a9c93a" stroke-width="1.1"/>
<circle cx="291.37" cy="315.37" r="4.0" fill="#a9c93a"/>
<path d="M307.34 305.72V313.76M304.84 305.72h5M304.84 313.76h5" stroke="#a9c93a" stroke-width="1.1"/>
<circle cx="307.34" cy="309.74" r="4.0" fill="#a9c93a"/>
<path d="M435.10 257.08V268.33M432.60 257.08h5M432.60 268.33h5" stroke="#a9c93a" stroke-width="1.1"/>
<circle cx="435.10" cy="262.71" r="4.0" fill="#a9c93a"/>
<path d="M278.59 315.77V327.83M276.09 315.77h5M276.09 327.83h5" stroke="#5b8c2c" stroke-width="1.1"/>
<circle cx="278.59" cy="321.80" r="4.0" fill="#5b8c2c"/>
<path d="M281.79 314.56V326.62M279.29 314.56h5M279.29 326.62h5" stroke="#5b8c2c" stroke-width="1.1"/>
<circle cx="281.79" cy="320.59" r="4.0" fill="#5b8c2c"/>
<path d="M291.37 312.96V321.80M288.87 312.96h5M288.87 321.80h5" stroke="#5b8c2c" stroke-width="1.1"/>
<circle cx="291.37" cy="317.38" r="4.0" fill="#5b8c2c"/>
<path d="M307.34 307.73V319.79M304.84 307.73h5M304.84 319.79h5" stroke="#5b8c2c" stroke-width="1.1"/>
<circle cx="307.34" cy="313.76" r="4.0" fill="#5b8c2c"/>
<path d="M435.10 270.55V280.59M432.60 270.55h5M432.60 280.59h5" stroke="#5b8c2c" stroke-width="1.1"/>
<circle cx="435.10" cy="275.57" r="4.0" fill="#5b8c2c"/>
<rect x="269.20" y="201.00" width="171.80" height="130.40" fill="none" stroke="#262626" stroke-width="1.3"/>
<path d="M275.40 331.40v-3.0M275.40 201.00v3.0M291.37 331.40v-1.8M291.37 201.00v1.8M307.34 331.40v-3.0M307.34 201.00v3.0M323.31 331.40v-1.8M323.31 201.00v1.8M339.28 331.40v-3.0M339.28 201.00v3.0M355.25 331.40v-1.8M355.25 201.00v1.8M371.22 331.40v-3.0M371.22 201.00v3.0M387.19 331.40v-1.8M387.19 201.00v1.8M403.16 331.40v-3.0M403.16 201.00v3.0M419.13 331.40v-1.8M419.13 201.00v1.8M435.10 331.40v-3.0M435.10 201.00v3.0M269.20 321.80h3.0M269.20 301.70h1.8M269.20 281.60h3.0M269.20 261.50h1.8M269.20 241.40h3.0M269.20 221.30h1.8M269.20 201.20h3.0" stroke="#262626" stroke-width="1" fill="none"/>
<text x="265.80" y="325.40" font-size="10" text-anchor="end" fill="#111" >0.0</text>
<text x="265.80" y="285.20" font-size="10" text-anchor="end" fill="#111" >0.2</text>
<text x="265.80" y="245.00" font-size="10" text-anchor="end" fill="#111" >0.4</text>
<text x="265.80" y="204.80" font-size="10" text-anchor="end" fill="#111" >0.6</text>
<text x="275.40" y="343.30" font-size="10" text-anchor="middle" fill="#111" >0</text>
<text x="307.34" y="343.30" font-size="10" text-anchor="middle" fill="#111" >10</text>
<text x="339.28" y="343.30" font-size="10" text-anchor="middle" fill="#111" >20</text>
<text x="371.22" y="343.30" font-size="10" text-anchor="middle" fill="#111" >30</text>
<text x="403.16" y="343.30" font-size="10" text-anchor="middle" fill="#111" >40</text>
<text x="435.10" y="343.30" font-size="10" text-anchor="middle" fill="#111" >50</text>
<circle cx="289.6" cy="215.20" r="3.9" fill="#f4484a"/>
<text x="304.00" y="218.80" font-size="10" text-anchor="start" fill="#111" >2 nm</text>
<circle cx="289.6" cy="227.40" r="3.9" fill="#e2a638"/>
<text x="304.00" y="231.00" font-size="10" text-anchor="start" fill="#111" >1 nm</text>
<circle cx="289.6" cy="239.60" r="3.9" fill="#a9c93a"/>
<text x="304.00" y="243.20" font-size="10" text-anchor="start" fill="#111" >0 nm</text>
<circle cx="289.6" cy="251.80" r="3.9" fill="#5b8c2c"/>
<text x="304.00" y="255.40" font-size="10" text-anchor="start" fill="#111" >6 nm</text>
<text x="328.6" y="361.8" font-size="11.5" fill="#111">1/<tspan font-style="italic">H</tspan><tspan font-size="7.8" dy="2.6">ext</tspan><tspan dy="-2.6"> (T</tspan><tspan font-size="7.8" dy="-4.3">-1</tspan><tspan dy="4.3">)</tspan></text>
<text transform="translate(240.8,296.8) rotate(-90)" font-size="11.5" fill="#111"><tspan font-style="italic">R</tspan><tspan font-size="8" dy="2.6">FL+Oe</tspan><tspan dy="-2.6">/</tspan><tspan font-style="italic">R</tspan><tspan font-size="8" dy="2.6">PHE</tspan></text>
<rect x="503.40" y="201.00" width="22.04" height="130.90" fill="#f6e2cc"/>
<rect x="525.44" y="201.00" width="21.65" height="130.90" fill="#fafad0"/>
<rect x="547.09" y="201.00" width="66.91" height="130.90" fill="#e0fbdc"/>
<rect x="614.00" y="201.00" width="61.30" height="130.90" fill="#ddf7fb"/>
<path d="M515.60 304.76 L525.44 304.76 L545.12 308.97 L564.80 308.97" stroke="#f07e22" stroke-width="1.3" fill="none" stroke-linejoin="round" />
<path d="M525.44 317.38 L564.80 317.38" stroke="#4d9a32" stroke-width="1.3" fill="none" stroke-linejoin="round" />
<path d="M515.60 247.78V255.03M513.10 247.78h5M513.10 255.03h5" stroke="#f2484c" stroke-width="1.1"/>
<circle cx="515.60" cy="251.41" r="3.5" fill="#f2484c"/>
<path d="M520.52 235.31V244.01M518.02 235.31h5M518.02 244.01h5" stroke="#f2484c" stroke-width="1.1"/>
<circle cx="520.52" cy="239.66" r="3.5" fill="#f2484c"/>
<path d="M523.47 217.19V225.89M520.97 217.19h5M520.97 225.89h5" stroke="#f2484c" stroke-width="1.1"/>
<circle cx="523.47" cy="221.54" r="3.5" fill="#f2484c"/>
<path d="M525.44 212.69V222.84M522.94 212.69h5M522.94 222.84h5" stroke="#f2484c" stroke-width="1.1"/>
<circle cx="525.44" cy="217.76" r="3.5" fill="#f2484c"/>
<path d="M527.90 221.25V229.95M525.40 221.25h5M525.40 229.95h5" stroke="#f2484c" stroke-width="1.1"/>
<circle cx="527.90" cy="225.60" r="3.5" fill="#f2484c"/>
<path d="M530.36 239.95V248.65M527.86 239.95h5M527.86 248.65h5" stroke="#f2484c" stroke-width="1.1"/>
<circle cx="530.36" cy="244.30" r="3.5" fill="#f2484c"/>
<path d="M535.28 259.53V266.78M532.78 259.53h5M532.78 266.78h5" stroke="#f2484c" stroke-width="1.1"/>
<circle cx="535.28" cy="263.15" r="3.5" fill="#f2484c"/>
<path d="M540.20 268.23V275.48M537.70 268.23h5M537.70 275.48h5" stroke="#f2484c" stroke-width="1.1"/>
<circle cx="540.20" cy="271.85" r="3.5" fill="#f2484c"/>
<path d="M545.12 274.46V281.71M542.62 274.46h5M542.62 281.71h5" stroke="#f2484c" stroke-width="1.1"/>
<circle cx="545.12" cy="278.09" r="3.5" fill="#f2484c"/>
<path d="M564.80 280.99V288.24M562.30 280.99h5M562.30 288.24h5" stroke="#f2484c" stroke-width="1.1"/>
<circle cx="564.80" cy="284.61" r="3.5" fill="#f2484c"/>
<path d="M589.40 280.99V288.24M586.90 280.99h5M586.90 288.24h5" stroke="#f2484c" stroke-width="1.1"/>
<circle cx="589.40" cy="284.61" r="3.5" fill="#f2484c"/>
<path d="M614.00 285.92V293.17M611.50 285.92h5M611.50 293.17h5" stroke="#f2484c" stroke-width="1.1"/>
<circle cx="614.00" cy="289.54" r="3.5" fill="#f2484c"/>
<path d="M638.60 294.47V301.72M636.10 294.47h5M636.10 301.72h5" stroke="#f2484c" stroke-width="1.1"/>
<circle cx="638.60" cy="298.10" r="3.5" fill="#f2484c"/>
<circle cx="663.20" cy="314.62" r="3.5" fill="#f2484c"/>
<path d="M515.60 301.00V308.53M513.10 301.00h5M513.10 308.53h5" stroke="#f07e22" stroke-width="1.1"/>
<path d="M515.60 300.46 L519.80 307.96 L511.40 307.96 Z" fill="#f07e22"/>
<path d="M525.44 301.00V308.53M522.94 301.00h5M522.94 308.53h5" stroke="#f07e22" stroke-width="1.1"/>
<path d="M525.44 300.46 L529.64 307.96 L521.24 307.96 Z" fill="#f07e22"/>
<path d="M545.12 305.20V312.74M542.62 305.20h5M542.62 312.74h5" stroke="#f07e22" stroke-width="1.1"/>
<path d="M545.12 304.67 L549.32 312.17 L540.92 312.17 Z" fill="#f07e22"/>
<path d="M564.80 305.20V312.74M562.30 305.20h5M562.30 312.74h5" stroke="#f07e22" stroke-width="1.1"/>
<path d="M564.80 304.67 L569.00 312.17 L560.60 312.17 Z" fill="#f07e22"/>
<rect x="522.24" y="314.18" width="6.4" height="6.4" fill="#4d9a32"/>
<rect x="541.92" y="314.18" width="6.4" height="6.4" fill="#4d9a32"/>
<rect x="561.60" y="314.18" width="6.4" height="6.4" fill="#4d9a32"/>
<path d="M515.60 251.41 L518.06 244.30 L520.52 236.32 L522.98 226.18 L525.44 220.38 L527.90 223.28 L530.36 235.60 L532.82 248.65 L535.28 258.80 L537.74 266.05 L540.20 271.12 L545.12 276.93 L550.04 279.82 L554.96 282.00 L564.80 283.74 L574.64 284.61 L589.40 285.62 L604.16 287.80 L614.00 289.54 L623.84 292.44 L638.60 298.24 L653.36 308.10 L663.20 315.06 L675.50 331.30" stroke="#3aa6ea" stroke-width="1.5" fill="none" stroke-dasharray="3 2.2"/>
<rect x="503.40" y="201.00" width="171.90" height="130.90" fill="none" stroke="#262626" stroke-width="1.3"/>
<path d="M503.30 331.90v-1.8M503.30 201.00v1.8M515.60 331.90v-3.0M515.60 201.00v3.0M527.90 331.90v-1.8M527.90 201.00v1.8M540.20 331.90v-3.0M540.20 201.00v3.0M552.50 331.90v-1.8M552.50 201.00v1.8M564.80 331.90v-3.0M564.80 201.00v3.0M577.10 331.90v-1.8M577.10 201.00v1.8M589.40 331.90v-3.0M589.40 201.00v3.0M601.70 331.90v-1.8M601.70 201.00v1.8M614.00 331.90v-3.0M614.00 201.00v3.0M626.30 331.90v-1.8M626.30 201.00v1.8M638.60 331.90v-3.0M638.60 201.00v3.0M650.90 331.90v-1.8M650.90 201.00v1.8M663.20 331.90v-3.0M663.20 201.00v3.0M675.50 331.90v-1.8M675.50 201.00v1.8M503.40 331.30h1.8M503.40 316.80h3.0M503.40 302.30h1.8M503.40 287.80h3.0M503.40 273.30h1.8M503.40 258.80h3.0M503.40 244.30h1.8M503.40 229.80h3.0M503.40 215.30h1.8M503.40 200.80h3.0" stroke="#262626" stroke-width="1" fill="none"/>
<text x="500.50" y="320.40" font-size="10" text-anchor="end" fill="#111" >0.0</text>
<text x="500.50" y="291.40" font-size="10" text-anchor="end" fill="#111" >0.2</text>
<text x="500.50" y="262.40" font-size="10" text-anchor="end" fill="#111" >0.4</text>
<text x="500.50" y="233.40" font-size="10" text-anchor="end" fill="#111" >0.6</text>
<text x="500.50" y="204.40" font-size="10" text-anchor="end" fill="#111" >0.8</text>
<text x="515.60" y="343.30" font-size="10" text-anchor="middle" fill="#111" >0</text>
<text x="540.20" y="343.30" font-size="10" text-anchor="middle" fill="#111" >5</text>
<text x="564.80" y="343.30" font-size="10" text-anchor="middle" fill="#111" >10</text>
<text x="589.40" y="343.30" font-size="10" text-anchor="middle" fill="#111" >15</text>
<text x="614.00" y="343.30" font-size="10" text-anchor="middle" fill="#111" >20</text>
<text x="638.60" y="343.30" font-size="10" text-anchor="middle" fill="#111" >25</text>
<text x="663.20" y="343.30" font-size="10" text-anchor="middle" fill="#111" >30</text>
<circle cx="578.7" cy="213.0" r="3.5" fill="#f2484c"/>
<path d="M567.6 225.8 H589" stroke="#3aa6ea" stroke-width="1.5" stroke-dasharray="3 2.2"/>
<path d="M579 234.2 L583 241.2 L575 241.2 Z" fill="#f07e22"/>
<rect x="575.8" y="248.8" width="6.4" height="6.4" fill="#4d9a32"/>
<text x="592.50" y="215.90" font-size="9.5" text-anchor="start" fill="#111" >SIO/NiO(t)/LSMO</text>
<text x="592.50" y="228.90" font-size="9.5" text-anchor="start" fill="#111" >Fit</text>
<text x="592.50" y="242.20" font-size="9.5" text-anchor="start" fill="#111" >Pt/NiO(t)/LSMO</text>
<text x="592.50" y="255.60" font-size="9.5" text-anchor="start" fill="#111" >NiO(t)/LSMO</text>
<text x="539.20" y="360.30" font-size="11.5" text-anchor="start" fill="#111" >NiO Thickness (nm)</text>
<text transform="translate(475.0,279.2) rotate(-90)" font-size="16.5" fill="#111"><tspan>ξ</tspan><tspan font-size="10.6" dy="2.8" dx="1.1">DL</tspan></text>
</svg></body></html>
